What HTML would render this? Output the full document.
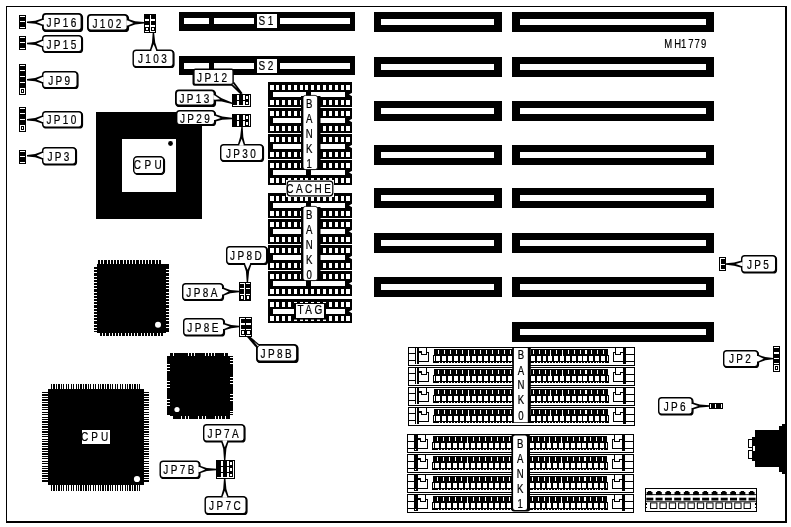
<!DOCTYPE html>
<html lang="en"><head><meta charset="utf-8"><title>MH1779 motherboard layout</title>
<style>html,body{margin:0;padding:0;background:#fff}svg{display:block;will-change:transform}text{font-family:"Liberation Sans",sans-serif;stroke:#000;stroke-width:.22px}</style>
</head><body>
<svg width="791" height="527" viewBox="0 0 791 527" font-family="Liberation Sans, sans-serif">
<rect x="0" y="0" width="791" height="527" fill="#fff"/>
<g shape-rendering="crispEdges">
<rect x="6" y="6" width="781" height="1" fill="#000" />
<rect x="6" y="6" width="1" height="517" fill="#000" />
<rect x="785" y="6" width="2" height="517" fill="#000" />
<rect x="6" y="521" width="781" height="2" fill="#000" />
<rect x="374" y="12" width="128" height="20" fill="#000" />
<rect x="381" y="19" width="113" height="6" fill="#fff" />
<rect x="374" y="57" width="128" height="20" fill="#000" />
<rect x="381" y="64" width="113" height="6" fill="#fff" />
<rect x="374" y="101" width="128" height="20" fill="#000" />
<rect x="381" y="108" width="113" height="6" fill="#fff" />
<rect x="374" y="145" width="128" height="20" fill="#000" />
<rect x="381" y="152" width="113" height="6" fill="#fff" />
<rect x="374" y="188" width="128" height="20" fill="#000" />
<rect x="381" y="195" width="113" height="6" fill="#fff" />
<rect x="374" y="233" width="128" height="20" fill="#000" />
<rect x="381" y="240" width="113" height="6" fill="#fff" />
<rect x="374" y="277" width="128" height="20" fill="#000" />
<rect x="381" y="284" width="113" height="6" fill="#fff" />
<rect x="512" y="12" width="202" height="20" fill="#000" />
<rect x="520" y="19" width="186" height="6" fill="#fff" />
<rect x="512" y="57" width="202" height="20" fill="#000" />
<rect x="520" y="64" width="186" height="6" fill="#fff" />
<rect x="512" y="101" width="202" height="20" fill="#000" />
<rect x="520" y="108" width="186" height="6" fill="#fff" />
<rect x="512" y="145" width="202" height="20" fill="#000" />
<rect x="520" y="152" width="186" height="6" fill="#fff" />
<rect x="512" y="188" width="202" height="20" fill="#000" />
<rect x="520" y="195" width="186" height="6" fill="#fff" />
<rect x="512" y="233" width="202" height="20" fill="#000" />
<rect x="520" y="240" width="186" height="6" fill="#fff" />
<rect x="512" y="277" width="202" height="20" fill="#000" />
<rect x="520" y="284" width="186" height="6" fill="#fff" />
<rect x="512" y="322" width="202" height="20" fill="#000" />
<rect x="520" y="329" width="186" height="6" fill="#fff" />
<rect x="179" y="12" width="176" height="19" fill="#000" />
<rect x="184" y="18" width="25" height="6" fill="#fff" />
<rect x="214" y="18" width="40" height="6" fill="#fff" />
<rect x="280" y="18" width="70" height="6" fill="#fff" />
<rect x="257" y="14" width="20" height="14" fill="#fff" />
<rect x="179" y="56" width="176" height="19" fill="#000" />
<rect x="184" y="63" width="25" height="6" fill="#fff" />
<rect x="214" y="63" width="40" height="6" fill="#fff" />
<rect x="280" y="63" width="70" height="6" fill="#fff" />
<rect x="257" y="59" width="20" height="14" fill="#fff" />
<rect x="96" y="112" width="106" height="107" fill="#000" />
<rect x="122" y="139" width="54" height="53" fill="#fff" />
<rect x="268" y="82" width="84" height="25" fill="#000" />
<rect x="270.2" y="85" width="3.7" height="5" fill="#fff" />
<rect x="270.2" y="100" width="3.7" height="5" fill="#fff" />
<rect x="276.06" y="85" width="3.1" height="5" fill="#fff" />
<rect x="276.06" y="100" width="3.1" height="5" fill="#fff" />
<rect x="281.92" y="85" width="3.1" height="5" fill="#fff" />
<rect x="281.92" y="100" width="3.1" height="5" fill="#fff" />
<rect x="287.78" y="85" width="3.1" height="5" fill="#fff" />
<rect x="287.78" y="100" width="3.1" height="5" fill="#fff" />
<rect x="293.64" y="85" width="3.1" height="5" fill="#fff" />
<rect x="293.64" y="100" width="3.1" height="5" fill="#fff" />
<rect x="299.5" y="85" width="3.1" height="5" fill="#fff" />
<rect x="299.5" y="100" width="3.1" height="5" fill="#fff" />
<rect x="305.36" y="85" width="3.1" height="5" fill="#fff" />
<rect x="305.36" y="100" width="3.1" height="5" fill="#fff" />
<rect x="311.22" y="85" width="3.1" height="5" fill="#fff" />
<rect x="311.22" y="100" width="3.1" height="5" fill="#fff" />
<rect x="317.08" y="85" width="3.1" height="5" fill="#fff" />
<rect x="317.08" y="100" width="3.1" height="5" fill="#fff" />
<rect x="322.94" y="85" width="3.1" height="5" fill="#fff" />
<rect x="322.94" y="100" width="3.1" height="5" fill="#fff" />
<rect x="328.8" y="85" width="3.1" height="5" fill="#fff" />
<rect x="328.8" y="100" width="3.1" height="5" fill="#fff" />
<rect x="334.66" y="85" width="3.1" height="5" fill="#fff" />
<rect x="334.66" y="100" width="3.1" height="5" fill="#fff" />
<rect x="340.52" y="85" width="3.1" height="5" fill="#fff" />
<rect x="340.52" y="100" width="3.1" height="5" fill="#fff" />
<rect x="346.38" y="85" width="3.7" height="5" fill="#fff" />
<rect x="346.38" y="100" width="3.7" height="5" fill="#fff" />
<rect x="273" y="92" width="72" height="5" fill="#fff" />
<rect x="306" y="90" width="5" height="9" fill="#000" />
<rect x="268" y="108" width="84" height="25" fill="#000" />
<rect x="270.2" y="111" width="3.7" height="5" fill="#fff" />
<rect x="270.2" y="126" width="3.7" height="5" fill="#fff" />
<rect x="276.06" y="111" width="3.1" height="5" fill="#fff" />
<rect x="276.06" y="126" width="3.1" height="5" fill="#fff" />
<rect x="281.92" y="111" width="3.1" height="5" fill="#fff" />
<rect x="281.92" y="126" width="3.1" height="5" fill="#fff" />
<rect x="287.78" y="111" width="3.1" height="5" fill="#fff" />
<rect x="287.78" y="126" width="3.1" height="5" fill="#fff" />
<rect x="293.64" y="111" width="3.1" height="5" fill="#fff" />
<rect x="293.64" y="126" width="3.1" height="5" fill="#fff" />
<rect x="299.5" y="111" width="3.1" height="5" fill="#fff" />
<rect x="299.5" y="126" width="3.1" height="5" fill="#fff" />
<rect x="305.36" y="111" width="3.1" height="5" fill="#fff" />
<rect x="305.36" y="126" width="3.1" height="5" fill="#fff" />
<rect x="311.22" y="111" width="3.1" height="5" fill="#fff" />
<rect x="311.22" y="126" width="3.1" height="5" fill="#fff" />
<rect x="317.08" y="111" width="3.1" height="5" fill="#fff" />
<rect x="317.08" y="126" width="3.1" height="5" fill="#fff" />
<rect x="322.94" y="111" width="3.1" height="5" fill="#fff" />
<rect x="322.94" y="126" width="3.1" height="5" fill="#fff" />
<rect x="328.8" y="111" width="3.1" height="5" fill="#fff" />
<rect x="328.8" y="126" width="3.1" height="5" fill="#fff" />
<rect x="334.66" y="111" width="3.1" height="5" fill="#fff" />
<rect x="334.66" y="126" width="3.1" height="5" fill="#fff" />
<rect x="340.52" y="111" width="3.1" height="5" fill="#fff" />
<rect x="340.52" y="126" width="3.1" height="5" fill="#fff" />
<rect x="346.38" y="111" width="3.7" height="5" fill="#fff" />
<rect x="346.38" y="126" width="3.7" height="5" fill="#fff" />
<rect x="273" y="118" width="72" height="5" fill="#fff" />
<rect x="268" y="134" width="84" height="25" fill="#000" />
<rect x="270.2" y="137" width="3.7" height="5" fill="#fff" />
<rect x="270.2" y="152" width="3.7" height="5" fill="#fff" />
<rect x="276.06" y="137" width="3.1" height="5" fill="#fff" />
<rect x="276.06" y="152" width="3.1" height="5" fill="#fff" />
<rect x="281.92" y="137" width="3.1" height="5" fill="#fff" />
<rect x="281.92" y="152" width="3.1" height="5" fill="#fff" />
<rect x="287.78" y="137" width="3.1" height="5" fill="#fff" />
<rect x="287.78" y="152" width="3.1" height="5" fill="#fff" />
<rect x="293.64" y="137" width="3.1" height="5" fill="#fff" />
<rect x="293.64" y="152" width="3.1" height="5" fill="#fff" />
<rect x="299.5" y="137" width="3.1" height="5" fill="#fff" />
<rect x="299.5" y="152" width="3.1" height="5" fill="#fff" />
<rect x="305.36" y="137" width="3.1" height="5" fill="#fff" />
<rect x="305.36" y="152" width="3.1" height="5" fill="#fff" />
<rect x="311.22" y="137" width="3.1" height="5" fill="#fff" />
<rect x="311.22" y="152" width="3.1" height="5" fill="#fff" />
<rect x="317.08" y="137" width="3.1" height="5" fill="#fff" />
<rect x="317.08" y="152" width="3.1" height="5" fill="#fff" />
<rect x="322.94" y="137" width="3.1" height="5" fill="#fff" />
<rect x="322.94" y="152" width="3.1" height="5" fill="#fff" />
<rect x="328.8" y="137" width="3.1" height="5" fill="#fff" />
<rect x="328.8" y="152" width="3.1" height="5" fill="#fff" />
<rect x="334.66" y="137" width="3.1" height="5" fill="#fff" />
<rect x="334.66" y="152" width="3.1" height="5" fill="#fff" />
<rect x="340.52" y="137" width="3.1" height="5" fill="#fff" />
<rect x="340.52" y="152" width="3.1" height="5" fill="#fff" />
<rect x="346.38" y="137" width="3.7" height="5" fill="#fff" />
<rect x="346.38" y="152" width="3.7" height="5" fill="#fff" />
<rect x="273" y="144" width="72" height="5" fill="#fff" />
<rect x="268" y="160" width="84" height="25" fill="#000" />
<rect x="270.2" y="163" width="3.7" height="5" fill="#fff" />
<rect x="270.2" y="178" width="3.7" height="5" fill="#fff" />
<rect x="276.06" y="163" width="3.1" height="5" fill="#fff" />
<rect x="276.06" y="178" width="3.1" height="5" fill="#fff" />
<rect x="281.92" y="163" width="3.1" height="5" fill="#fff" />
<rect x="281.92" y="178" width="3.1" height="5" fill="#fff" />
<rect x="287.78" y="163" width="3.1" height="5" fill="#fff" />
<rect x="287.78" y="178" width="3.1" height="5" fill="#fff" />
<rect x="293.64" y="163" width="3.1" height="5" fill="#fff" />
<rect x="293.64" y="178" width="3.1" height="5" fill="#fff" />
<rect x="299.5" y="163" width="3.1" height="5" fill="#fff" />
<rect x="299.5" y="178" width="3.1" height="5" fill="#fff" />
<rect x="305.36" y="163" width="3.1" height="5" fill="#fff" />
<rect x="305.36" y="178" width="3.1" height="5" fill="#fff" />
<rect x="311.22" y="163" width="3.1" height="5" fill="#fff" />
<rect x="311.22" y="178" width="3.1" height="5" fill="#fff" />
<rect x="317.08" y="163" width="3.1" height="5" fill="#fff" />
<rect x="317.08" y="178" width="3.1" height="5" fill="#fff" />
<rect x="322.94" y="163" width="3.1" height="5" fill="#fff" />
<rect x="322.94" y="178" width="3.1" height="5" fill="#fff" />
<rect x="328.8" y="163" width="3.1" height="5" fill="#fff" />
<rect x="328.8" y="178" width="3.1" height="5" fill="#fff" />
<rect x="334.66" y="163" width="3.1" height="5" fill="#fff" />
<rect x="334.66" y="178" width="3.1" height="5" fill="#fff" />
<rect x="340.52" y="163" width="3.1" height="5" fill="#fff" />
<rect x="340.52" y="178" width="3.1" height="5" fill="#fff" />
<rect x="346.38" y="163" width="3.7" height="5" fill="#fff" />
<rect x="346.38" y="178" width="3.7" height="5" fill="#fff" />
<rect x="273" y="170" width="72" height="5" fill="#fff" />
<rect x="306" y="168" width="5" height="9" fill="#000" />
<rect x="268" y="193" width="84" height="25" fill="#000" />
<rect x="270.2" y="196" width="3.7" height="5" fill="#fff" />
<rect x="270.2" y="211" width="3.7" height="5" fill="#fff" />
<rect x="276.06" y="196" width="3.1" height="5" fill="#fff" />
<rect x="276.06" y="211" width="3.1" height="5" fill="#fff" />
<rect x="281.92" y="196" width="3.1" height="5" fill="#fff" />
<rect x="281.92" y="211" width="3.1" height="5" fill="#fff" />
<rect x="287.78" y="196" width="3.1" height="5" fill="#fff" />
<rect x="287.78" y="211" width="3.1" height="5" fill="#fff" />
<rect x="293.64" y="196" width="3.1" height="5" fill="#fff" />
<rect x="293.64" y="211" width="3.1" height="5" fill="#fff" />
<rect x="299.5" y="196" width="3.1" height="5" fill="#fff" />
<rect x="299.5" y="211" width="3.1" height="5" fill="#fff" />
<rect x="305.36" y="196" width="3.1" height="5" fill="#fff" />
<rect x="305.36" y="211" width="3.1" height="5" fill="#fff" />
<rect x="311.22" y="196" width="3.1" height="5" fill="#fff" />
<rect x="311.22" y="211" width="3.1" height="5" fill="#fff" />
<rect x="317.08" y="196" width="3.1" height="5" fill="#fff" />
<rect x="317.08" y="211" width="3.1" height="5" fill="#fff" />
<rect x="322.94" y="196" width="3.1" height="5" fill="#fff" />
<rect x="322.94" y="211" width="3.1" height="5" fill="#fff" />
<rect x="328.8" y="196" width="3.1" height="5" fill="#fff" />
<rect x="328.8" y="211" width="3.1" height="5" fill="#fff" />
<rect x="334.66" y="196" width="3.1" height="5" fill="#fff" />
<rect x="334.66" y="211" width="3.1" height="5" fill="#fff" />
<rect x="340.52" y="196" width="3.1" height="5" fill="#fff" />
<rect x="340.52" y="211" width="3.1" height="5" fill="#fff" />
<rect x="346.38" y="196" width="3.7" height="5" fill="#fff" />
<rect x="346.38" y="211" width="3.7" height="5" fill="#fff" />
<rect x="273" y="203" width="72" height="5" fill="#fff" />
<rect x="306" y="201" width="5" height="9" fill="#000" />
<rect x="268" y="219" width="84" height="25" fill="#000" />
<rect x="270.2" y="222" width="3.7" height="5" fill="#fff" />
<rect x="270.2" y="237" width="3.7" height="5" fill="#fff" />
<rect x="276.06" y="222" width="3.1" height="5" fill="#fff" />
<rect x="276.06" y="237" width="3.1" height="5" fill="#fff" />
<rect x="281.92" y="222" width="3.1" height="5" fill="#fff" />
<rect x="281.92" y="237" width="3.1" height="5" fill="#fff" />
<rect x="287.78" y="222" width="3.1" height="5" fill="#fff" />
<rect x="287.78" y="237" width="3.1" height="5" fill="#fff" />
<rect x="293.64" y="222" width="3.1" height="5" fill="#fff" />
<rect x="293.64" y="237" width="3.1" height="5" fill="#fff" />
<rect x="299.5" y="222" width="3.1" height="5" fill="#fff" />
<rect x="299.5" y="237" width="3.1" height="5" fill="#fff" />
<rect x="305.36" y="222" width="3.1" height="5" fill="#fff" />
<rect x="305.36" y="237" width="3.1" height="5" fill="#fff" />
<rect x="311.22" y="222" width="3.1" height="5" fill="#fff" />
<rect x="311.22" y="237" width="3.1" height="5" fill="#fff" />
<rect x="317.08" y="222" width="3.1" height="5" fill="#fff" />
<rect x="317.08" y="237" width="3.1" height="5" fill="#fff" />
<rect x="322.94" y="222" width="3.1" height="5" fill="#fff" />
<rect x="322.94" y="237" width="3.1" height="5" fill="#fff" />
<rect x="328.8" y="222" width="3.1" height="5" fill="#fff" />
<rect x="328.8" y="237" width="3.1" height="5" fill="#fff" />
<rect x="334.66" y="222" width="3.1" height="5" fill="#fff" />
<rect x="334.66" y="237" width="3.1" height="5" fill="#fff" />
<rect x="340.52" y="222" width="3.1" height="5" fill="#fff" />
<rect x="340.52" y="237" width="3.1" height="5" fill="#fff" />
<rect x="346.38" y="222" width="3.7" height="5" fill="#fff" />
<rect x="346.38" y="237" width="3.7" height="5" fill="#fff" />
<rect x="273" y="229" width="72" height="5" fill="#fff" />
<rect x="268" y="245" width="84" height="25" fill="#000" />
<rect x="270.2" y="248" width="3.7" height="5" fill="#fff" />
<rect x="270.2" y="263" width="3.7" height="5" fill="#fff" />
<rect x="276.06" y="248" width="3.1" height="5" fill="#fff" />
<rect x="276.06" y="263" width="3.1" height="5" fill="#fff" />
<rect x="281.92" y="248" width="3.1" height="5" fill="#fff" />
<rect x="281.92" y="263" width="3.1" height="5" fill="#fff" />
<rect x="287.78" y="248" width="3.1" height="5" fill="#fff" />
<rect x="287.78" y="263" width="3.1" height="5" fill="#fff" />
<rect x="293.64" y="248" width="3.1" height="5" fill="#fff" />
<rect x="293.64" y="263" width="3.1" height="5" fill="#fff" />
<rect x="299.5" y="248" width="3.1" height="5" fill="#fff" />
<rect x="299.5" y="263" width="3.1" height="5" fill="#fff" />
<rect x="305.36" y="248" width="3.1" height="5" fill="#fff" />
<rect x="305.36" y="263" width="3.1" height="5" fill="#fff" />
<rect x="311.22" y="248" width="3.1" height="5" fill="#fff" />
<rect x="311.22" y="263" width="3.1" height="5" fill="#fff" />
<rect x="317.08" y="248" width="3.1" height="5" fill="#fff" />
<rect x="317.08" y="263" width="3.1" height="5" fill="#fff" />
<rect x="322.94" y="248" width="3.1" height="5" fill="#fff" />
<rect x="322.94" y="263" width="3.1" height="5" fill="#fff" />
<rect x="328.8" y="248" width="3.1" height="5" fill="#fff" />
<rect x="328.8" y="263" width="3.1" height="5" fill="#fff" />
<rect x="334.66" y="248" width="3.1" height="5" fill="#fff" />
<rect x="334.66" y="263" width="3.1" height="5" fill="#fff" />
<rect x="340.52" y="248" width="3.1" height="5" fill="#fff" />
<rect x="340.52" y="263" width="3.1" height="5" fill="#fff" />
<rect x="346.38" y="248" width="3.7" height="5" fill="#fff" />
<rect x="346.38" y="263" width="3.7" height="5" fill="#fff" />
<rect x="273" y="255" width="72" height="5" fill="#fff" />
<rect x="268" y="271" width="84" height="25" fill="#000" />
<rect x="270.2" y="274" width="3.7" height="5" fill="#fff" />
<rect x="270.2" y="289" width="3.7" height="5" fill="#fff" />
<rect x="276.06" y="274" width="3.1" height="5" fill="#fff" />
<rect x="276.06" y="289" width="3.1" height="5" fill="#fff" />
<rect x="281.92" y="274" width="3.1" height="5" fill="#fff" />
<rect x="281.92" y="289" width="3.1" height="5" fill="#fff" />
<rect x="287.78" y="274" width="3.1" height="5" fill="#fff" />
<rect x="287.78" y="289" width="3.1" height="5" fill="#fff" />
<rect x="293.64" y="274" width="3.1" height="5" fill="#fff" />
<rect x="293.64" y="289" width="3.1" height="5" fill="#fff" />
<rect x="299.5" y="274" width="3.1" height="5" fill="#fff" />
<rect x="299.5" y="289" width="3.1" height="5" fill="#fff" />
<rect x="305.36" y="274" width="3.1" height="5" fill="#fff" />
<rect x="305.36" y="289" width="3.1" height="5" fill="#fff" />
<rect x="311.22" y="274" width="3.1" height="5" fill="#fff" />
<rect x="311.22" y="289" width="3.1" height="5" fill="#fff" />
<rect x="317.08" y="274" width="3.1" height="5" fill="#fff" />
<rect x="317.08" y="289" width="3.1" height="5" fill="#fff" />
<rect x="322.94" y="274" width="3.1" height="5" fill="#fff" />
<rect x="322.94" y="289" width="3.1" height="5" fill="#fff" />
<rect x="328.8" y="274" width="3.1" height="5" fill="#fff" />
<rect x="328.8" y="289" width="3.1" height="5" fill="#fff" />
<rect x="334.66" y="274" width="3.1" height="5" fill="#fff" />
<rect x="334.66" y="289" width="3.1" height="5" fill="#fff" />
<rect x="340.52" y="274" width="3.1" height="5" fill="#fff" />
<rect x="340.52" y="289" width="3.1" height="5" fill="#fff" />
<rect x="346.38" y="274" width="3.7" height="5" fill="#fff" />
<rect x="346.38" y="289" width="3.7" height="5" fill="#fff" />
<rect x="273" y="281" width="72" height="5" fill="#fff" />
<rect x="306" y="279" width="5" height="9" fill="#000" />
<rect x="268" y="299" width="84" height="24" fill="#000" />
<rect x="270.2" y="302" width="3.7" height="5" fill="#fff" />
<rect x="270.2" y="316" width="3.7" height="5" fill="#fff" />
<rect x="276.06" y="302" width="3.1" height="5" fill="#fff" />
<rect x="276.06" y="316" width="3.1" height="5" fill="#fff" />
<rect x="281.92" y="302" width="3.1" height="5" fill="#fff" />
<rect x="281.92" y="316" width="3.1" height="5" fill="#fff" />
<rect x="287.78" y="302" width="3.1" height="5" fill="#fff" />
<rect x="287.78" y="316" width="3.1" height="5" fill="#fff" />
<rect x="293.64" y="302" width="3.1" height="5" fill="#fff" />
<rect x="293.64" y="316" width="3.1" height="5" fill="#fff" />
<rect x="299.5" y="302" width="3.1" height="5" fill="#fff" />
<rect x="299.5" y="316" width="3.1" height="5" fill="#fff" />
<rect x="305.36" y="302" width="3.1" height="5" fill="#fff" />
<rect x="305.36" y="316" width="3.1" height="5" fill="#fff" />
<rect x="311.22" y="302" width="3.1" height="5" fill="#fff" />
<rect x="311.22" y="316" width="3.1" height="5" fill="#fff" />
<rect x="317.08" y="302" width="3.1" height="5" fill="#fff" />
<rect x="317.08" y="316" width="3.1" height="5" fill="#fff" />
<rect x="322.94" y="302" width="3.1" height="5" fill="#fff" />
<rect x="322.94" y="316" width="3.1" height="5" fill="#fff" />
<rect x="328.8" y="302" width="3.1" height="5" fill="#fff" />
<rect x="328.8" y="316" width="3.1" height="5" fill="#fff" />
<rect x="334.66" y="302" width="3.1" height="5" fill="#fff" />
<rect x="334.66" y="316" width="3.1" height="5" fill="#fff" />
<rect x="340.52" y="302" width="3.1" height="5" fill="#fff" />
<rect x="340.52" y="316" width="3.1" height="5" fill="#fff" />
<rect x="346.38" y="302" width="3.7" height="5" fill="#fff" />
<rect x="346.38" y="316" width="3.7" height="5" fill="#fff" />
<rect x="273" y="309" width="72" height="5" fill="#fff" />
</g>
<path d="M352.5,92.5 L349,94.5 L352.5,96.5 Z" fill="#fff"/>
<path d="M352.5,118.5 L349,120.5 L352.5,122.5 Z" fill="#fff"/>
<path d="M352.5,144.5 L349,146.5 L352.5,148.5 Z" fill="#fff"/>
<path d="M352.5,170.5 L349,172.5 L352.5,174.5 Z" fill="#fff"/>
<path d="M352.5,203.5 L349,205.5 L352.5,207.5 Z" fill="#fff"/>
<path d="M352.5,229.5 L349,231.5 L352.5,233.5 Z" fill="#fff"/>
<path d="M352.5,255.5 L349,257.5 L352.5,259.5 Z" fill="#fff"/>
<path d="M352.5,281.5 L349,283.5 L352.5,285.5 Z" fill="#fff"/>
<path d="M352.5,309.5 L349,311.5 L352.5,313.5 Z" fill="#fff"/>
<circle cx="170.5" cy="143.5" r="2.4" fill="#000"/>
<rect x="134.4" y="157.4" width="30" height="17" rx="3.5" ry="3.5" fill="#000" stroke="#000" stroke-width="1.4"/>
<rect x="133.7" y="156.7" width="30" height="17" rx="3.5" ry="3.5" fill="#fff" stroke="#000" stroke-width="1.4"/>
<text transform="translate(149.5,169.4) scale(0.8,1)" font-size="12.5" text-anchor="middle" letter-spacing="4.38" fill="#000" >CPU</text>
<rect x="301" y="96" width="19.5" height="74" fill="#000"/><rect x="301" y="207" width="19.5" height="74" fill="#000"/>
<rect x="303" y="95.4" width="14.6" height="74.2" rx="2.5" ry="2.5" fill="#fff" stroke="#000" stroke-width="0.8"/>
<text transform="translate(310.4,107.5) scale(0.8,1)" font-size="12" text-anchor="middle" letter-spacing="3" fill="#000" >B</text>
<text transform="translate(310.4,123) scale(0.8,1)" font-size="12" text-anchor="middle" letter-spacing="3" fill="#000" >A</text>
<text transform="translate(310.4,137.5) scale(0.8,1)" font-size="12" text-anchor="middle" letter-spacing="3" fill="#000" >N</text>
<text transform="translate(310.4,152.5) scale(0.8,1)" font-size="12" text-anchor="middle" letter-spacing="3" fill="#000" >K</text>
<text transform="translate(310.4,167.5) scale(0.8,1)" font-size="12" text-anchor="middle" letter-spacing="3" fill="#000" >1</text>
<rect x="303" y="206.4" width="14.6" height="74.2" rx="2.5" ry="2.5" fill="#fff" stroke="#000" stroke-width="0.8"/>
<text transform="translate(310.4,218.5) scale(0.8,1)" font-size="12" text-anchor="middle" letter-spacing="3" fill="#000" >B</text>
<text transform="translate(310.4,234) scale(0.8,1)" font-size="12" text-anchor="middle" letter-spacing="3" fill="#000" >A</text>
<text transform="translate(310.4,248.5) scale(0.8,1)" font-size="12" text-anchor="middle" letter-spacing="3" fill="#000" >N</text>
<text transform="translate(310.4,263.5) scale(0.8,1)" font-size="12" text-anchor="middle" letter-spacing="3" fill="#000" >K</text>
<text transform="translate(310.4,278.5) scale(0.8,1)" font-size="12" text-anchor="middle" letter-spacing="3" fill="#000" >0</text>
<rect x="286" y="180" width="48" height="17" fill="#fff"/>
<rect x="287.2" y="181.2" width="45.6" height="14.6" rx="3" ry="3" fill="#fff" stroke="#000" stroke-width="1.2"/>
<text transform="translate(309.8,192.6) scale(0.8,1)" font-size="12.5" text-anchor="middle" letter-spacing="3" fill="#000" >CACHE</text>
<rect x="294" y="303" width="32" height="16.6" fill="#000"/>
<rect x="296" y="304" width="28" height="14" fill="#fff"/>
<text transform="translate(311.1,314.4) scale(0.8,1)" font-size="12.5" text-anchor="middle" letter-spacing="3" fill="#000" >TAG</text>
<text transform="translate(267.1,25.4) scale(0.8,1)" font-size="12.5" text-anchor="middle" letter-spacing="3" fill="#000" >S1</text>
<text transform="translate(267.1,70.4) scale(0.8,1)" font-size="12.5" text-anchor="middle" letter-spacing="3" fill="#000" >S2</text>
<text transform="scale(0.76,1)" x="873.95 887.11 895.92 905.66 913.95 922.24" y="48" font-size="12.5" fill="#000">MH1779</text>
<g shape-rendering="crispEdges">
<rect x="19" y="15" width="7" height="14" fill="#000" />
<rect x="20" y="16" width="5" height="1" fill="#fff" />
<rect x="20" y="21" width="5" height="1" fill="#fff" />
<rect x="20" y="27" width="5" height="1" fill="#fff" />
<rect x="19" y="36" width="7" height="14" fill="#000" />
<rect x="20" y="37" width="5" height="1" fill="#fff" />
<rect x="20" y="42" width="5" height="1" fill="#fff" />
<rect x="20" y="48" width="5" height="1" fill="#fff" />
<rect x="19" y="64" width="7" height="31" fill="#000" />
<rect x="20" y="65" width="5" height="1" fill="#fff" />
<rect x="20" y="70" width="5" height="1" fill="#fff" />
<rect x="20" y="76" width="5" height="1" fill="#fff" />
<rect x="20" y="82" width="5" height="1" fill="#fff" />
<rect x="20" y="88" width="5" height="6" fill="#fff" />
<rect x="21.5" y="89.5" width="2" height="3" fill="#fff" stroke="#000" stroke-width="1"/>
<rect x="19" y="107" width="7" height="25" fill="#000" />
<rect x="20" y="108" width="5" height="1" fill="#fff" />
<rect x="20" y="113" width="5" height="1" fill="#fff" />
<rect x="20" y="119" width="5" height="1" fill="#fff" />
<rect x="20" y="125" width="5" height="6" fill="#fff" />
<rect x="21.5" y="126.5" width="2" height="3" fill="#fff" stroke="#000" stroke-width="1"/>
<rect x="19" y="150" width="7" height="14" fill="#000" />
<rect x="20" y="151" width="5" height="1" fill="#fff" />
<rect x="20" y="156" width="5" height="1" fill="#fff" />
<rect x="20" y="162" width="5" height="1" fill="#fff" />
<rect x="719" y="257" width="7" height="14" fill="#000" />
<rect x="720" y="258" width="5" height="12" fill="#fff" />
<rect x="721" y="259" width="5" height="4.5" fill="#000" />
<rect x="721" y="264.5" width="5" height="4.5" fill="#000" />
<rect x="773" y="346" width="7" height="26" fill="#000" />
<rect x="774" y="347" width="5" height="1" fill="#fff" />
<rect x="774" y="352" width="5" height="2" fill="#fff" />
<rect x="774" y="358" width="5" height="1" fill="#fff" />
<rect x="774" y="363" width="5" height="1" fill="#fff" />
<rect x="774" y="365" width="5" height="6" fill="#fff" />
<rect x="775.5" y="366.5" width="2" height="3" fill="#fff" stroke="#000" stroke-width="1"/>
<rect x="709" y="403" width="14" height="6" fill="#000" />
<rect x="710" y="404" width="1" height="4" fill="#fff" />
<rect x="715" y="404" width="1" height="4" fill="#fff" />
<rect x="721" y="404" width="1" height="4" fill="#fff" />
<rect x="144" y="14" width="12" height="19" fill="#000" />
<rect x="150" y="15" width="1" height="17" fill="#fff" />
<rect x="145" y="19" width="4" height="2" fill="#fff" />
<rect x="151" y="19" width="4" height="2" fill="#fff" />
<rect x="145" y="25" width="4" height="2" fill="#fff" />
<rect x="151" y="25" width="4" height="2" fill="#fff" />
<rect x="146" y="28" width="2" height="2" fill="#fff" />
<rect x="152" y="28" width="2" height="2" fill="#fff" />
<rect x="145" y="31" width="4" height="1" fill="#fff" />
<rect x="151" y="31" width="4" height="1" fill="#fff" />
<rect x="232" y="94" width="19" height="13" fill="#000" />
<rect x="237" y="95" width="2" height="5" fill="#fff" />
<rect x="237" y="101" width="2" height="4" fill="#fff" />
<rect x="243" y="95" width="2" height="5" fill="#fff" />
<rect x="243" y="101" width="2" height="4" fill="#fff" />
<rect x="246" y="96" width="2" height="3" fill="#fff" />
<rect x="246" y="102" width="2" height="2" fill="#fff" />
<rect x="249" y="95" width="1" height="10" fill="#fff" />
<rect x="233" y="105" width="17" height="1" fill="#fff" />
<rect x="232" y="114" width="19" height="13" fill="#000" />
<rect x="237" y="115" width="2" height="5" fill="#fff" />
<rect x="237" y="121" width="2" height="5" fill="#fff" />
<rect x="243" y="115" width="2" height="5" fill="#fff" />
<rect x="243" y="121" width="2" height="5" fill="#fff" />
<rect x="246" y="116" width="2" height="3" fill="#fff" />
<rect x="246" y="122" width="2" height="3" fill="#fff" />
<rect x="249" y="115" width="1" height="11" fill="#fff" />
<rect x="239" y="282" width="12" height="19" fill="#000" />
<rect x="240" y="283" width="4" height="1" fill="#fff" />
<rect x="246" y="283" width="4" height="1" fill="#fff" />
<rect x="244" y="283" width="1" height="17" fill="#fff" />
<rect x="240" y="288" width="4" height="1" fill="#fff" />
<rect x="246" y="288" width="4" height="1" fill="#fff" />
<rect x="240" y="294" width="4" height="1" fill="#fff" />
<rect x="246" y="294" width="4" height="1" fill="#fff" />
<rect x="241" y="296" width="2" height="3" fill="#fff" />
<rect x="247" y="296" width="2" height="3" fill="#fff" />
<rect x="239" y="317" width="13" height="20" fill="#000" />
<rect x="240" y="318" width="1" height="18" fill="#fff" />
<rect x="240" y="318" width="5" height="1" fill="#fff" />
<rect x="246" y="318" width="5" height="1" fill="#fff" />
<rect x="241" y="323" width="4" height="2" fill="#fff" />
<rect x="246" y="323" width="5" height="2" fill="#fff" />
<rect x="241" y="329" width="4" height="1" fill="#fff" />
<rect x="246" y="329" width="5" height="1" fill="#fff" />
<rect x="242" y="331" width="2" height="3" fill="#fff" />
<rect x="247" y="331" width="3" height="3" fill="#fff" />
<rect x="240" y="335" width="5" height="1" fill="#fff" />
<rect x="246" y="335" width="5" height="1" fill="#fff" />
<rect x="216" y="460" width="19" height="19" fill="#000" />
<rect x="221" y="461" width="2" height="5" fill="#fff" />
<rect x="221" y="467" width="2" height="5" fill="#fff" />
<rect x="221" y="473" width="2" height="4" fill="#fff" />
<rect x="227" y="461" width="2" height="5" fill="#fff" />
<rect x="227" y="467" width="2" height="5" fill="#fff" />
<rect x="227" y="473" width="2" height="4" fill="#fff" />
<rect x="230" y="462" width="2" height="3" fill="#fff" />
<rect x="230" y="468" width="2" height="3" fill="#fff" />
<rect x="230" y="474" width="2" height="2" fill="#fff" />
<rect x="233" y="461" width="1" height="16" fill="#fff" />
<rect x="217" y="477" width="17" height="1" fill="#fff" />
</g>
<rect x="43.6" y="14.6" width="38.6" height="16.6" rx="3" ry="3" fill="#000" stroke="#000" stroke-width="1.8"/>
<rect x="42.9" y="13.9" width="38.6" height="16.6" rx="3" ry="3" fill="#fff" stroke="#000" stroke-width="1.8"/>
<path d="M42.90,18.30 L35.30,20.67 L27.00,21.60 L27.00,23.00 L35.30,23.87 L42.90,26.20 Z" fill="#000"/>
<path d="M44.10,19.90 L42.60,19.90 L36.90,22.27 L42.60,24.60 L44.10,24.60 Z" fill="#fff"/>
<text transform="translate(62.6,27) scale(0.8,1)" font-size="12.5" text-anchor="middle" letter-spacing="3" fill="#000" >JP16</text>
<rect x="43.4" y="36.4" width="39" height="16" rx="3" ry="3" fill="#000" stroke="#000" stroke-width="1.4"/>
<rect x="42.7" y="35.7" width="39" height="16" rx="3" ry="3" fill="#fff" stroke="#000" stroke-width="1.4"/>
<path d="M42.70,39.30 L35.10,41.90 L27.00,42.80 L27.00,44.20 L35.10,45.10 L42.70,47.70 Z" fill="#000"/>
<path d="M43.70,40.90 L42.40,40.90 L36.70,43.50 L42.40,46.10 L43.70,46.10 Z" fill="#fff"/>
<text transform="translate(62.6,48.5) scale(0.8,1)" font-size="12.5" text-anchor="middle" letter-spacing="3" fill="#000" >JP15</text>
<rect x="43.4" y="72.4" width="34.5" height="16" rx="3" ry="3" fill="#000" stroke="#000" stroke-width="1.4"/>
<rect x="42.7" y="71.7" width="34.5" height="16" rx="3" ry="3" fill="#fff" stroke="#000" stroke-width="1.4"/>
<path d="M42.70,75.30 L35.10,78.00 L27.00,79.00 L27.00,80.40 L35.10,81.20 L42.70,83.70 Z" fill="#000"/>
<path d="M43.70,76.89 L42.40,76.90 L36.70,79.58 L42.40,82.10 L43.70,82.09 Z" fill="#fff"/>
<text transform="translate(60.35,84.5) scale(0.8,1)" font-size="12.5" text-anchor="middle" letter-spacing="3" fill="#000" >JP9</text>
<rect x="43.4" y="112.4" width="39" height="15.5" rx="3" ry="3" fill="#000" stroke="#000" stroke-width="1.4"/>
<rect x="42.7" y="111.7" width="39" height="15.5" rx="3" ry="3" fill="#fff" stroke="#000" stroke-width="1.4"/>
<path d="M42.70,115.30 L35.10,118.00 L27.00,119.00 L27.00,120.40 L35.10,121.20 L42.70,123.70 Z" fill="#000"/>
<path d="M43.70,116.89 L42.40,116.90 L36.70,119.58 L42.40,122.10 L43.70,122.09 Z" fill="#fff"/>
<text transform="translate(62.6,124.25) scale(0.8,1)" font-size="12.5" text-anchor="middle" letter-spacing="3" fill="#000" >JP10</text>
<rect x="43.4" y="148.4" width="33" height="16.5" rx="3" ry="3" fill="#000" stroke="#000" stroke-width="1.4"/>
<rect x="42.7" y="147.7" width="33" height="16.5" rx="3" ry="3" fill="#fff" stroke="#000" stroke-width="1.4"/>
<path d="M42.70,151.30 L35.10,154.05 L27.00,155.10 L27.00,156.50 L35.10,157.25 L42.70,159.70 Z" fill="#000"/>
<path d="M43.70,152.88 L42.40,152.91 L36.70,155.61 L42.40,158.11 L43.70,158.08 Z" fill="#fff"/>
<text transform="translate(59.6,160.75) scale(0.8,1)" font-size="12.5" text-anchor="middle" letter-spacing="3" fill="#000" >JP3</text>
<rect x="88.6" y="15.6" width="39.6" height="15.6" rx="3" ry="3" fill="#000" stroke="#000" stroke-width="1.8"/>
<rect x="87.9" y="14.9" width="39.6" height="15.6" rx="3" ry="3" fill="#fff" stroke="#000" stroke-width="1.8"/>
<path d="M127.50,27.20 L135.10,24.51 L144.00,23.50 L144.00,22.10 L135.10,21.31 L127.50,18.80 Z" fill="#000"/>
<path d="M126.30,25.61 L127.80,25.60 L133.50,22.93 L127.80,20.40 L126.30,20.41 Z" fill="#fff"/>
<text transform="translate(108.1,27.5) scale(0.8,1)" font-size="12.5" text-anchor="middle" letter-spacing="3" fill="#000" >J102</text>
<rect x="133.9" y="50.9" width="40" height="16.5" rx="3" ry="3" fill="#000" stroke="#000" stroke-width="1.4"/>
<rect x="133.2" y="50.2" width="40" height="16.5" rx="3" ry="3" fill="#fff" stroke="#000" stroke-width="1.4"/>
<path d="M157.70,50.20 L155.20,42.60 L154.10,32.50 L152.70,32.50 L152.00,42.60 L149.80,50.20 Z" fill="#000"/>
<path d="M156.12,51.20 L156.09,49.90 L153.63,44.20 L151.39,49.90 L151.42,51.20 Z" fill="#fff"/>
<text transform="translate(153.6,63.25) scale(0.8,1)" font-size="12.5" text-anchor="middle" letter-spacing="3" fill="#000" >J103</text>
<rect x="176.6" y="91.1" width="38.6" height="15.1" rx="3" ry="3" fill="#000" stroke="#000" stroke-width="1.8"/>
<rect x="175.9" y="90.4" width="38.6" height="15.1" rx="3" ry="3" fill="#fff" stroke="#000" stroke-width="1.8"/>
<path d="M214.50,101.20 L221.73,101.45 L232.00,103.90 L232.00,102.50 L221.73,98.25 L214.50,93.80 Z" fill="#000"/>
<path d="M213.36,99.23 L214.79,99.69 L220.21,99.36 L214.79,95.49 L213.36,95.03 Z" fill="#fff"/>
<text transform="translate(195.6,102.75) scale(0.8,1)" font-size="12.5" text-anchor="middle" letter-spacing="3" fill="#000" >JP13</text>
<rect x="177.4" y="111.4" width="38" height="14" rx="3" ry="3" fill="#000" stroke="#000" stroke-width="1.4"/>
<rect x="176.7" y="110.7" width="38" height="14" rx="3" ry="3" fill="#fff" stroke="#000" stroke-width="1.4"/>
<path d="M214.70,121.70 L222.30,119.76 L232.00,119.20 L232.00,117.80 L222.30,116.56 L214.70,114.10 Z" fill="#000"/>
<path d="M213.70,120.07 L215.00,120.11 L220.70,118.11 L215.00,115.71 L213.70,115.67 Z" fill="#fff"/>
<text transform="translate(196.1,122.5) scale(0.8,1)" font-size="12.5" text-anchor="middle" letter-spacing="3" fill="#000" >JP29</text>
<rect x="221.4" y="145.4" width="42" height="16" rx="3" ry="3" fill="#000" stroke="#000" stroke-width="1.4"/>
<rect x="220.7" y="144.7" width="42" height="16" rx="3" ry="3" fill="#fff" stroke="#000" stroke-width="1.4"/>
<path d="M245.20,144.70 L243.31,137.10 L242.70,127.00 L241.30,127.00 L240.11,137.10 L237.80,144.70 Z" fill="#000"/>
<path d="M243.57,145.70 L243.61,144.40 L241.67,138.70 L239.41,144.40 L239.37,145.70 Z" fill="#fff"/>
<text transform="translate(242.1,157.5) scale(0.8,1)" font-size="12.5" text-anchor="middle" letter-spacing="3" fill="#000" >JP30</text>
<rect x="227.4" y="247.4" width="40" height="17" rx="3" ry="3" fill="#000" stroke="#000" stroke-width="1.4"/>
<rect x="226.7" y="246.7" width="40" height="17" rx="3" ry="3" fill="#fff" stroke="#000" stroke-width="1.4"/>
<path d="M243.50,263.70 L245.92,271.30 L246.70,282.00 L248.10,282.00 L249.12,271.30 L251.70,263.70 Z" fill="#000"/>
<path d="M245.11,262.70 L245.10,264.00 L247.53,269.70 L250.10,264.00 L250.11,262.70 Z" fill="#fff"/>
<text transform="translate(247.1,260) scale(0.8,1)" font-size="12.5" text-anchor="middle" letter-spacing="3" fill="#000" >JP8D</text>
<rect x="183.4" y="284.4" width="40" height="16" rx="3" ry="3" fill="#000" stroke="#000" stroke-width="1.4"/>
<rect x="182.7" y="283.7" width="40" height="16" rx="3" ry="3" fill="#fff" stroke="#000" stroke-width="1.4"/>
<path d="M222.70,296.00 L230.30,293.18 L239.00,292.20 L239.00,290.80 L230.30,289.98 L222.70,287.30 Z" fill="#000"/>
<path d="M221.70,294.41 L223.00,294.40 L228.70,291.59 L223.00,288.90 L221.70,288.91 Z" fill="#fff"/>
<text transform="translate(203.1,296.5) scale(0.8,1)" font-size="12.5" text-anchor="middle" letter-spacing="3" fill="#000" >JP8A</text>
<rect x="184.4" y="319.4" width="40" height="16.5" rx="3" ry="3" fill="#000" stroke="#000" stroke-width="1.4"/>
<rect x="183.7" y="318.7" width="40" height="16.5" rx="3" ry="3" fill="#fff" stroke="#000" stroke-width="1.4"/>
<path d="M223.70,330.50 L231.30,328.18 L239.00,327.20 L239.00,325.80 L231.30,324.98 L223.70,322.80 Z" fill="#000"/>
<path d="M222.70,328.91 L224.00,328.90 L229.70,326.59 L224.00,324.40 L222.70,324.41 Z" fill="#fff"/>
<text transform="translate(204.1,331.75) scale(0.8,1)" font-size="12.5" text-anchor="middle" letter-spacing="3" fill="#000" >JP8E</text>
<rect x="204.4" y="425.4" width="40.5" height="16.5" rx="3" ry="3" fill="#000" stroke="#000" stroke-width="1.4"/>
<rect x="203.7" y="424.7" width="40.5" height="16.5" rx="3" ry="3" fill="#fff" stroke="#000" stroke-width="1.4"/>
<path d="M221.00,441.20 L223.19,448.80 L224.00,460.00 L225.40,460.00 L226.39,448.80 L228.70,441.20 Z" fill="#000"/>
<path d="M222.61,440.20 L222.60,441.50 L224.80,447.20 L227.10,441.50 L227.11,440.20 Z" fill="#fff"/>
<text transform="translate(224.35,437.75) scale(0.8,1)" font-size="12.5" text-anchor="middle" letter-spacing="3" fill="#000" >JP7A</text>
<rect x="160.9" y="461.9" width="39" height="16.5" rx="3" ry="3" fill="#000" stroke="#000" stroke-width="1.4"/>
<rect x="160.2" y="461.2" width="39" height="16.5" rx="3" ry="3" fill="#fff" stroke="#000" stroke-width="1.4"/>
<path d="M199.20,473.50 L206.80,471.10 L216.50,470.20 L216.50,468.80 L206.80,467.90 L199.20,465.50 Z" fill="#000"/>
<path d="M198.20,471.90 L199.50,471.90 L205.20,469.50 L199.50,467.10 L198.20,467.10 Z" fill="#fff"/>
<text transform="translate(180.1,474.25) scale(0.8,1)" font-size="12.5" text-anchor="middle" letter-spacing="3" fill="#000" >JP7B</text>
<rect x="205.9" y="497.4" width="41" height="17" rx="3" ry="3" fill="#000" stroke="#000" stroke-width="1.4"/>
<rect x="205.2" y="496.7" width="41" height="17" rx="3" ry="3" fill="#fff" stroke="#000" stroke-width="1.4"/>
<path d="M228.70,496.70 L226.39,489.10 L225.40,478.30 L224.00,478.30 L223.19,489.10 L221.00,496.70 Z" fill="#000"/>
<path d="M227.11,497.70 L227.10,496.40 L224.80,490.70 L222.60,496.40 L222.61,497.70 Z" fill="#fff"/>
<text transform="translate(226.1,510) scale(0.8,1)" font-size="12.5" text-anchor="middle" letter-spacing="3" fill="#000" >JP7C</text>
<rect x="742.4" y="256.4" width="34" height="16.5" rx="3" ry="3" fill="#000" stroke="#000" stroke-width="1.4"/>
<rect x="741.7" y="255.7" width="34" height="16.5" rx="3" ry="3" fill="#fff" stroke="#000" stroke-width="1.4"/>
<path d="M741.70,260.60 L734.10,262.48 L726.00,263.30 L726.00,264.70 L734.10,265.68 L741.70,267.70 Z" fill="#000"/>
<path d="M742.70,262.21 L741.40,262.20 L735.70,264.09 L741.40,266.10 L742.70,266.11 Z" fill="#fff"/>
<text transform="translate(759.1,268.75) scale(0.8,1)" font-size="12.5" text-anchor="middle" letter-spacing="3" fill="#000" >JP5</text>
<rect x="724.4" y="351.4" width="34" height="16" rx="3" ry="3" fill="#000" stroke="#000" stroke-width="1.4"/>
<rect x="723.7" y="350.7" width="34" height="16" rx="3" ry="3" fill="#fff" stroke="#000" stroke-width="1.4"/>
<path d="M757.70,363.10 L765.30,360.30 L773.00,359.30 L773.00,357.90 L765.30,357.10 L757.70,354.50 Z" fill="#000"/>
<path d="M756.70,361.51 L758.00,361.50 L763.70,358.72 L758.00,356.10 L756.70,356.11 Z" fill="#fff"/>
<text transform="translate(741.1,362.7) scale(0.8,1)" font-size="12.5" text-anchor="middle" letter-spacing="3" fill="#000" >JP2</text>
<rect x="659.4" y="398.4" width="33.5" height="16.5" rx="3" ry="3" fill="#000" stroke="#000" stroke-width="1.4"/>
<rect x="658.7" y="397.7" width="33.5" height="16.5" rx="3" ry="3" fill="#fff" stroke="#000" stroke-width="1.4"/>
<path d="M692.20,409.70 L699.80,407.60 L709.40,406.70 L709.40,405.30 L699.80,404.40 L692.20,402.30 Z" fill="#000"/>
<path d="M691.20,408.10 L692.50,408.10 L698.20,406.00 L692.50,403.90 L691.20,403.90 Z" fill="#fff"/>
<text transform="translate(675.85,410.75) scale(0.8,1)" font-size="12.5" text-anchor="middle" letter-spacing="3" fill="#000" >JP6</text>
<rect x="193.2" y="69.9" width="39.2" height="15.2" rx="1.5" ry="1.5" fill="#000" stroke="#000" stroke-width="1.4"/>
<rect x="193.9" y="69.2" width="39.2" height="15.2" rx="1.5" ry="1.5" fill="#fff" stroke="#000" stroke-width="1.4"/>
<text transform="translate(213.3,81.6) scale(0.8,1)" font-size="12.5" text-anchor="middle" letter-spacing="3" fill="#000" >JP12</text>
<path d="M230.3,84.6 L234.2,82 L242.6,93.2 L240.6,94.6 Z" fill="#000"/>
<path d="M232.3,84 L233,83.4 L237,88.6 Z" fill="#fff"/>
<rect x="257.6" y="345.6" width="40.1" height="16.6" rx="3" ry="3" fill="#000" stroke="#000" stroke-width="1.8"/>
<rect x="256.9" y="344.9" width="40.1" height="16.6" rx="3" ry="3" fill="#fff" stroke="#000" stroke-width="1.8"/>
<text transform="translate(277.35,358) scale(0.8,1)" font-size="12.5" text-anchor="middle" letter-spacing="3" fill="#000" >JP8B</text>
<path d="M246.6,336.5 L250,336.5 L260,345 L257,348.6 Z" fill="#000"/>
<path d="M258,346.6 L258.8,345.8 L254,341.6 Z" fill="#fff"/>
<g shape-rendering="crispEdges">
<rect x="97" y="264" width="69" height="69" fill="#000" />
<rect x="94" y="267" width="75" height="65" fill="#000" />
<rect x="97" y="264" width="72" height="3" fill="#000" />
<rect x="98" y="260" width="64" height="4" fill="#000" />
<rect x="100.2" y="260" width="1" height="4" fill="#fff" />
<rect x="103.4" y="260" width="1" height="4" fill="#fff" />
<rect x="106.6" y="260" width="1" height="4" fill="#fff" />
<rect x="109.8" y="260" width="1" height="4" fill="#fff" />
<rect x="113" y="260" width="1" height="4" fill="#fff" />
<rect x="116.2" y="260" width="1" height="4" fill="#fff" />
<rect x="119.4" y="260" width="1" height="4" fill="#fff" />
<rect x="122.6" y="260" width="1" height="4" fill="#fff" />
<rect x="125.8" y="260" width="1" height="4" fill="#fff" />
<rect x="129" y="260" width="1" height="4" fill="#fff" />
<rect x="132.2" y="260" width="1" height="4" fill="#fff" />
<rect x="135.4" y="260" width="1" height="4" fill="#fff" />
<rect x="138.6" y="260" width="1" height="4" fill="#fff" />
<rect x="141.8" y="260" width="1" height="4" fill="#fff" />
<rect x="145" y="260" width="1" height="4" fill="#fff" />
<rect x="148.2" y="260" width="1" height="4" fill="#fff" />
<rect x="151.4" y="260" width="1" height="4" fill="#fff" />
<rect x="154.6" y="260" width="1" height="4" fill="#fff" />
<rect x="157.8" y="260" width="1" height="4" fill="#fff" />
<rect x="161" y="260" width="1" height="4" fill="#fff" />
<rect x="100" y="333" width="64" height="3" fill="#000" />
<rect x="102.2" y="333" width="1" height="3" fill="#fff" />
<rect x="105.4" y="333" width="1" height="3" fill="#fff" />
<rect x="108.6" y="333" width="1" height="3" fill="#fff" />
<rect x="111.8" y="333" width="1" height="3" fill="#fff" />
<rect x="115" y="333" width="1" height="3" fill="#fff" />
<rect x="118.2" y="333" width="1" height="3" fill="#fff" />
<rect x="121.4" y="333" width="1" height="3" fill="#fff" />
<rect x="124.6" y="333" width="1" height="3" fill="#fff" />
<rect x="127.8" y="333" width="1" height="3" fill="#fff" />
<rect x="131" y="333" width="1" height="3" fill="#fff" />
<rect x="134.2" y="333" width="1" height="3" fill="#fff" />
<rect x="137.4" y="333" width="1" height="3" fill="#fff" />
<rect x="140.6" y="333" width="1" height="3" fill="#fff" />
<rect x="143.8" y="333" width="1" height="3" fill="#fff" />
<rect x="147" y="333" width="1" height="3" fill="#fff" />
<rect x="150.2" y="333" width="1" height="3" fill="#fff" />
<rect x="153.4" y="333" width="1" height="3" fill="#fff" />
<rect x="156.6" y="333" width="1" height="3" fill="#fff" />
<rect x="159.8" y="333" width="1" height="3" fill="#fff" />
<rect x="163" y="333" width="1" height="3" fill="#fff" />
<rect x="94" y="267" width="3" height="65" fill="#000" />
<rect x="94" y="269.2" width="3" height="1" fill="#fff" />
<rect x="94" y="272.4" width="3" height="1" fill="#fff" />
<rect x="94" y="275.6" width="3" height="1" fill="#fff" />
<rect x="94" y="278.8" width="3" height="1" fill="#fff" />
<rect x="94" y="282" width="3" height="1" fill="#fff" />
<rect x="94" y="285.2" width="3" height="1" fill="#fff" />
<rect x="94" y="288.4" width="3" height="1" fill="#fff" />
<rect x="94" y="291.6" width="3" height="1" fill="#fff" />
<rect x="94" y="294.8" width="3" height="1" fill="#fff" />
<rect x="94" y="298" width="3" height="1" fill="#fff" />
<rect x="94" y="301.2" width="3" height="1" fill="#fff" />
<rect x="94" y="304.4" width="3" height="1" fill="#fff" />
<rect x="94" y="307.6" width="3" height="1" fill="#fff" />
<rect x="94" y="310.8" width="3" height="1" fill="#fff" />
<rect x="94" y="314" width="3" height="1" fill="#fff" />
<rect x="94" y="317.2" width="3" height="1" fill="#fff" />
<rect x="94" y="320.4" width="3" height="1" fill="#fff" />
<rect x="94" y="323.6" width="3" height="1" fill="#fff" />
<rect x="94" y="326.8" width="3" height="1" fill="#fff" />
<rect x="94" y="330" width="3" height="1" fill="#fff" />
<rect x="166" y="267" width="3" height="62" fill="#000" />
<rect x="166" y="269.2" width="3" height="1" fill="#fff" />
<rect x="166" y="272.4" width="3" height="1" fill="#fff" />
<rect x="166" y="275.6" width="3" height="1" fill="#fff" />
<rect x="166" y="278.8" width="3" height="1" fill="#fff" />
<rect x="166" y="282" width="3" height="1" fill="#fff" />
<rect x="166" y="285.2" width="3" height="1" fill="#fff" />
<rect x="166" y="288.4" width="3" height="1" fill="#fff" />
<rect x="166" y="291.6" width="3" height="1" fill="#fff" />
<rect x="166" y="294.8" width="3" height="1" fill="#fff" />
<rect x="166" y="298" width="3" height="1" fill="#fff" />
<rect x="166" y="301.2" width="3" height="1" fill="#fff" />
<rect x="166" y="304.4" width="3" height="1" fill="#fff" />
<rect x="166" y="307.6" width="3" height="1" fill="#fff" />
<rect x="166" y="310.8" width="3" height="1" fill="#fff" />
<rect x="166" y="314" width="3" height="1" fill="#fff" />
<rect x="166" y="317.2" width="3" height="1" fill="#fff" />
<rect x="166" y="320.4" width="3" height="1" fill="#fff" />
<rect x="166" y="323.6" width="3" height="1" fill="#fff" />
<rect x="166" y="326.8" width="3" height="1" fill="#fff" />
<rect x="167" y="356" width="66" height="59" fill="#000" />
<rect x="170" y="353" width="58" height="3" fill="#000" />
<rect x="170" y="415" width="60" height="1" fill="#000" />
<rect x="173" y="415" width="57" height="4" fill="#000" />
<rect x="173.4" y="353" width="1" height="3" fill="#fff" />
<rect x="187.5" y="353" width="1" height="3" fill="#fff" />
<rect x="190.5" y="353" width="1" height="3" fill="#fff" />
<rect x="193.7" y="353" width="1" height="3" fill="#fff" />
<rect x="204.5" y="353" width="1" height="3" fill="#fff" />
<rect x="207.6" y="353" width="1" height="3" fill="#fff" />
<rect x="210.6" y="353" width="1" height="3" fill="#fff" />
<rect x="213.7" y="353" width="1" height="3" fill="#fff" />
<rect x="224.2" y="353" width="1" height="3" fill="#fff" />
<rect x="181.4" y="416" width="1" height="3" fill="#fff" />
<rect x="184.6" y="416" width="1" height="3" fill="#fff" />
<rect x="187.8" y="416" width="1" height="3" fill="#fff" />
<rect x="198.3" y="416" width="1" height="3" fill="#fff" />
<rect x="201.5" y="416" width="1" height="3" fill="#fff" />
<rect x="204.5" y="416" width="1" height="3" fill="#fff" />
<rect x="215.4" y="416" width="1" height="3" fill="#fff" />
<rect x="218.2" y="416" width="1" height="3" fill="#fff" />
<rect x="221.3" y="416" width="1" height="3" fill="#fff" />
<rect x="224.5" y="416" width="1" height="3" fill="#fff" />
<rect x="167" y="364" width="3" height="1" fill="#fff" />
<rect x="167" y="367.2" width="3" height="1" fill="#fff" />
<rect x="167" y="370.4" width="3" height="1" fill="#fff" />
<rect x="167" y="381.3" width="3" height="1" fill="#fff" />
<rect x="167" y="384.2" width="3" height="1" fill="#fff" />
<rect x="167" y="387.1" width="3" height="1" fill="#fff" />
<rect x="167" y="398.5" width="3" height="1" fill="#fff" />
<rect x="167" y="401.7" width="3" height="1" fill="#fff" />
<rect x="167" y="404.8" width="3" height="1" fill="#fff" />
<rect x="230" y="357" width="3" height="1" fill="#fff" />
<rect x="230" y="360" width="3" height="1" fill="#fff" />
<rect x="230" y="362.9" width="3" height="1" fill="#fff" />
<rect x="230" y="376.6" width="3" height="1" fill="#fff" />
<rect x="230" y="379.7" width="3" height="1" fill="#fff" />
<rect x="230" y="382.7" width="3" height="1" fill="#fff" />
<rect x="230" y="393.7" width="3" height="1" fill="#fff" />
<rect x="230" y="396.6" width="3" height="1" fill="#fff" />
<rect x="230" y="399.5" width="3" height="1" fill="#fff" />
<rect x="230" y="410.5" width="3" height="1" fill="#fff" />
<rect x="230" y="413.2" width="3" height="1" fill="#fff" />
<rect x="48" y="389" width="96" height="96" fill="#000" />
<rect x="51" y="384" width="90" height="5" fill="#000" />
<rect x="52.2" y="384" width="1.25" height="5" fill="#fff" />
<rect x="54.65" y="384" width="1.25" height="5" fill="#fff" />
<rect x="57.1" y="384" width="1.25" height="5" fill="#fff" />
<rect x="59.55" y="384" width="1.25" height="5" fill="#fff" />
<rect x="62" y="384" width="1.25" height="5" fill="#fff" />
<rect x="64.45" y="384" width="1.25" height="5" fill="#fff" />
<rect x="66.9" y="384" width="1.25" height="5" fill="#fff" />
<rect x="69.35" y="384" width="1.25" height="5" fill="#fff" />
<rect x="71.8" y="384" width="1.25" height="5" fill="#fff" />
<rect x="74.25" y="384" width="1.25" height="5" fill="#fff" />
<rect x="76.7" y="384" width="1.25" height="5" fill="#fff" />
<rect x="79.15" y="384" width="1.25" height="5" fill="#fff" />
<rect x="81.6" y="384" width="1.25" height="5" fill="#fff" />
<rect x="84.05" y="384" width="1.25" height="5" fill="#fff" />
<rect x="86.5" y="384" width="1.25" height="5" fill="#fff" />
<rect x="88.95" y="384" width="1.25" height="5" fill="#fff" />
<rect x="91.4" y="384" width="1.25" height="5" fill="#fff" />
<rect x="93.85" y="384" width="1.25" height="5" fill="#fff" />
<rect x="96.3" y="384" width="1.25" height="5" fill="#fff" />
<rect x="98.75" y="384" width="1.25" height="5" fill="#fff" />
<rect x="101.2" y="384" width="1.25" height="5" fill="#fff" />
<rect x="103.65" y="384" width="1.25" height="5" fill="#fff" />
<rect x="106.1" y="384" width="1.25" height="5" fill="#fff" />
<rect x="108.55" y="384" width="1.25" height="5" fill="#fff" />
<rect x="111" y="384" width="1.25" height="5" fill="#fff" />
<rect x="113.45" y="384" width="1.25" height="5" fill="#fff" />
<rect x="115.9" y="384" width="1.25" height="5" fill="#fff" />
<rect x="118.35" y="384" width="1.25" height="5" fill="#fff" />
<rect x="120.8" y="384" width="1.25" height="5" fill="#fff" />
<rect x="123.25" y="384" width="1.25" height="5" fill="#fff" />
<rect x="125.7" y="384" width="1.25" height="5" fill="#fff" />
<rect x="128.15" y="384" width="1.25" height="5" fill="#fff" />
<rect x="130.6" y="384" width="1.25" height="5" fill="#fff" />
<rect x="133.05" y="384" width="1.25" height="5" fill="#fff" />
<rect x="135.5" y="384" width="1.25" height="5" fill="#fff" />
<rect x="137.95" y="384" width="1.25" height="5" fill="#fff" />
<rect x="140.4" y="384" width="0.6" height="5" fill="#fff" />
<rect x="51" y="485" width="90.3" height="6" fill="#000" />
<rect x="52.2" y="485" width="1.25" height="6" fill="#fff" />
<rect x="54.65" y="485" width="1.25" height="6" fill="#fff" />
<rect x="57.1" y="485" width="1.25" height="6" fill="#fff" />
<rect x="59.55" y="485" width="1.25" height="6" fill="#fff" />
<rect x="62" y="485" width="1.25" height="6" fill="#fff" />
<rect x="64.45" y="485" width="1.25" height="6" fill="#fff" />
<rect x="66.9" y="485" width="1.25" height="6" fill="#fff" />
<rect x="69.35" y="485" width="1.25" height="6" fill="#fff" />
<rect x="71.8" y="485" width="1.25" height="6" fill="#fff" />
<rect x="74.25" y="485" width="1.25" height="6" fill="#fff" />
<rect x="76.7" y="485" width="1.25" height="6" fill="#fff" />
<rect x="79.15" y="485" width="1.25" height="6" fill="#fff" />
<rect x="81.6" y="485" width="1.25" height="6" fill="#fff" />
<rect x="84.05" y="485" width="1.25" height="6" fill="#fff" />
<rect x="86.5" y="485" width="1.25" height="6" fill="#fff" />
<rect x="88.95" y="485" width="1.25" height="6" fill="#fff" />
<rect x="91.4" y="485" width="1.25" height="6" fill="#fff" />
<rect x="93.85" y="485" width="1.25" height="6" fill="#fff" />
<rect x="96.3" y="485" width="1.25" height="6" fill="#fff" />
<rect x="98.75" y="485" width="1.25" height="6" fill="#fff" />
<rect x="101.2" y="485" width="1.25" height="6" fill="#fff" />
<rect x="103.65" y="485" width="1.25" height="6" fill="#fff" />
<rect x="106.1" y="485" width="1.25" height="6" fill="#fff" />
<rect x="108.55" y="485" width="1.25" height="6" fill="#fff" />
<rect x="111" y="485" width="1.25" height="6" fill="#fff" />
<rect x="113.45" y="485" width="1.25" height="6" fill="#fff" />
<rect x="115.9" y="485" width="1.25" height="6" fill="#fff" />
<rect x="118.35" y="485" width="1.25" height="6" fill="#fff" />
<rect x="120.8" y="485" width="1.25" height="6" fill="#fff" />
<rect x="123.25" y="485" width="1.25" height="6" fill="#fff" />
<rect x="125.7" y="485" width="1.25" height="6" fill="#fff" />
<rect x="128.15" y="485" width="1.25" height="6" fill="#fff" />
<rect x="130.6" y="485" width="1.25" height="6" fill="#fff" />
<rect x="133.05" y="485" width="1.25" height="6" fill="#fff" />
<rect x="135.5" y="485" width="1.25" height="6" fill="#fff" />
<rect x="137.95" y="485" width="1.25" height="6" fill="#fff" />
<rect x="140.4" y="485" width="0.9" height="6" fill="#fff" />
<rect x="42" y="392" width="6" height="91" fill="#000" />
<rect x="42" y="393.3" width="6" height="1.15" fill="#fff" />
<rect x="42" y="395.75" width="6" height="1.15" fill="#fff" />
<rect x="42" y="398.2" width="6" height="1.15" fill="#fff" />
<rect x="42" y="400.65" width="6" height="1.15" fill="#fff" />
<rect x="42" y="403.1" width="6" height="1.15" fill="#fff" />
<rect x="42" y="405.55" width="6" height="1.15" fill="#fff" />
<rect x="42" y="408" width="6" height="1.15" fill="#fff" />
<rect x="42" y="410.45" width="6" height="1.15" fill="#fff" />
<rect x="42" y="412.9" width="6" height="1.15" fill="#fff" />
<rect x="42" y="415.35" width="6" height="1.15" fill="#fff" />
<rect x="42" y="417.8" width="6" height="1.15" fill="#fff" />
<rect x="42" y="420.25" width="6" height="1.15" fill="#fff" />
<rect x="42" y="422.7" width="6" height="1.15" fill="#fff" />
<rect x="42" y="425.15" width="6" height="1.15" fill="#fff" />
<rect x="42" y="427.6" width="6" height="1.15" fill="#fff" />
<rect x="42" y="430.05" width="6" height="1.15" fill="#fff" />
<rect x="42" y="432.5" width="6" height="1.15" fill="#fff" />
<rect x="42" y="434.95" width="6" height="1.15" fill="#fff" />
<rect x="42" y="437.4" width="6" height="1.15" fill="#fff" />
<rect x="42" y="439.85" width="6" height="1.15" fill="#fff" />
<rect x="42" y="442.3" width="6" height="1.15" fill="#fff" />
<rect x="42" y="444.75" width="6" height="1.15" fill="#fff" />
<rect x="42" y="447.2" width="6" height="1.15" fill="#fff" />
<rect x="42" y="449.65" width="6" height="1.15" fill="#fff" />
<rect x="42" y="452.1" width="6" height="1.15" fill="#fff" />
<rect x="42" y="454.55" width="6" height="1.15" fill="#fff" />
<rect x="42" y="457" width="6" height="1.15" fill="#fff" />
<rect x="42" y="459.45" width="6" height="1.15" fill="#fff" />
<rect x="42" y="461.9" width="6" height="1.15" fill="#fff" />
<rect x="42" y="464.35" width="6" height="1.15" fill="#fff" />
<rect x="42" y="466.8" width="6" height="1.15" fill="#fff" />
<rect x="42" y="469.25" width="6" height="1.15" fill="#fff" />
<rect x="42" y="471.7" width="6" height="1.15" fill="#fff" />
<rect x="42" y="474.15" width="6" height="1.15" fill="#fff" />
<rect x="42" y="476.6" width="6" height="1.15" fill="#fff" />
<rect x="42" y="479.05" width="6" height="1.15" fill="#fff" />
<rect x="42" y="481.5" width="6" height="1.15" fill="#fff" />
<rect x="144" y="392" width="5.3" height="90.3" fill="#000" />
<rect x="144" y="393.3" width="5.3" height="1.15" fill="#fff" />
<rect x="144" y="395.75" width="5.3" height="1.15" fill="#fff" />
<rect x="144" y="398.2" width="5.3" height="1.15" fill="#fff" />
<rect x="144" y="400.65" width="5.3" height="1.15" fill="#fff" />
<rect x="144" y="403.1" width="5.3" height="1.15" fill="#fff" />
<rect x="144" y="405.55" width="5.3" height="1.15" fill="#fff" />
<rect x="144" y="408" width="5.3" height="1.15" fill="#fff" />
<rect x="144" y="410.45" width="5.3" height="1.15" fill="#fff" />
<rect x="144" y="412.9" width="5.3" height="1.15" fill="#fff" />
<rect x="144" y="415.35" width="5.3" height="1.15" fill="#fff" />
<rect x="144" y="417.8" width="5.3" height="1.15" fill="#fff" />
<rect x="144" y="420.25" width="5.3" height="1.15" fill="#fff" />
<rect x="144" y="422.7" width="5.3" height="1.15" fill="#fff" />
<rect x="144" y="425.15" width="5.3" height="1.15" fill="#fff" />
<rect x="144" y="427.6" width="5.3" height="1.15" fill="#fff" />
<rect x="144" y="430.05" width="5.3" height="1.15" fill="#fff" />
<rect x="144" y="432.5" width="5.3" height="1.15" fill="#fff" />
<rect x="144" y="434.95" width="5.3" height="1.15" fill="#fff" />
<rect x="144" y="437.4" width="5.3" height="1.15" fill="#fff" />
<rect x="144" y="439.85" width="5.3" height="1.15" fill="#fff" />
<rect x="144" y="442.3" width="5.3" height="1.15" fill="#fff" />
<rect x="144" y="444.75" width="5.3" height="1.15" fill="#fff" />
<rect x="144" y="447.2" width="5.3" height="1.15" fill="#fff" />
<rect x="144" y="449.65" width="5.3" height="1.15" fill="#fff" />
<rect x="144" y="452.1" width="5.3" height="1.15" fill="#fff" />
<rect x="144" y="454.55" width="5.3" height="1.15" fill="#fff" />
<rect x="144" y="457" width="5.3" height="1.15" fill="#fff" />
<rect x="144" y="459.45" width="5.3" height="1.15" fill="#fff" />
<rect x="144" y="461.9" width="5.3" height="1.15" fill="#fff" />
<rect x="144" y="464.35" width="5.3" height="1.15" fill="#fff" />
<rect x="144" y="466.8" width="5.3" height="1.15" fill="#fff" />
<rect x="144" y="469.25" width="5.3" height="1.15" fill="#fff" />
<rect x="144" y="471.7" width="5.3" height="1.15" fill="#fff" />
<rect x="144" y="474.15" width="5.3" height="1.15" fill="#fff" />
<rect x="144" y="476.6" width="5.3" height="1.15" fill="#fff" />
<rect x="144" y="479.05" width="5.3" height="1.15" fill="#fff" />
<rect x="144" y="481.5" width="5.3" height="0.8" fill="#fff" />
<rect x="82" y="430" width="28" height="14" fill="#fff" />
</g>
<circle cx="158" cy="324.7" r="3" fill="#fff"/>
<circle cx="177" cy="409.5" r="2.6" fill="#fff"/>
<circle cx="137" cy="479" r="3.1" fill="#fff"/>
<text transform="translate(96.1,441.2) scale(0.8,1)" font-size="12.5" text-anchor="middle" letter-spacing="3.75" fill="#000" >CPU</text>
<g shape-rendering="crispEdges">
<rect x="408.5" y="347.5" width="226" height="18" fill="#fff" stroke="#000" stroke-width="1"/>
<rect x="408" y="353" width="7" height="1" fill="#000" />
<rect x="408" y="360" width="7" height="1" fill="#000" />
<rect x="415" y="347" width="1.3" height="17" fill="#000" />
<rect x="417.2" y="347" width="1.8" height="17" fill="#000" />
<rect x="419" y="351" width="3" height="2" fill="#000" />
<rect x="421" y="353" width="1" height="2" fill="#000" />
<rect x="421" y="354" width="6" height="1" fill="#000" />
<rect x="426" y="348" width="1" height="7" fill="#000" />
<rect x="427" y="352" width="2" height="1" fill="#000" />
<rect x="428" y="352" width="1" height="10" fill="#000" />
<rect x="419" y="361" width="10" height="1" fill="#000" />
<rect x="626" y="354" width="9" height="1" fill="#000" />
<rect x="626" y="361" width="9" height="1" fill="#000" />
<rect x="623" y="347" width="3" height="17" fill="#000" />
<rect x="613" y="352" width="1" height="10" fill="#000" />
<rect x="613" y="352" width="3" height="1" fill="#000" />
<rect x="615" y="348" width="1" height="7" fill="#000" />
<rect x="615" y="354" width="6" height="1" fill="#000" />
<rect x="620" y="352" width="1" height="3" fill="#000" />
<rect x="620" y="352" width="3" height="1" fill="#000" />
<rect x="613" y="361" width="10" height="1" fill="#000" />
<rect x="433.9" y="349" width="79.7" height="7" fill="#000" />
<rect x="433.1" y="355" width="81.2" height="8" fill="#000" />
<rect x="433.9" y="356" width="0.9" height="5" fill="#fff" />
<rect x="439" y="362" width="1" height="1" fill="#fff" />
<rect x="442.02" y="362" width="1" height="1" fill="#fff" />
<rect x="445.04" y="362" width="1" height="1" fill="#fff" />
<rect x="448.06" y="362" width="1" height="1" fill="#fff" />
<rect x="451.08" y="362" width="1" height="1" fill="#fff" />
<rect x="454.1" y="362" width="1" height="1" fill="#fff" />
<rect x="457.12" y="362" width="1" height="1" fill="#fff" />
<rect x="460.14" y="362" width="1" height="1" fill="#fff" />
<rect x="463.16" y="362" width="1" height="1" fill="#fff" />
<rect x="466.18" y="362" width="1" height="1" fill="#fff" />
<rect x="469.2" y="362" width="1" height="1" fill="#fff" />
<rect x="472.22" y="362" width="1" height="1" fill="#fff" />
<rect x="475.24" y="362" width="1" height="1" fill="#fff" />
<rect x="478.26" y="362" width="1" height="1" fill="#fff" />
<rect x="481.28" y="362" width="1" height="1" fill="#fff" />
<rect x="484.3" y="362" width="1" height="1" fill="#fff" />
<rect x="487.32" y="362" width="1" height="1" fill="#fff" />
<rect x="490.34" y="362" width="1" height="1" fill="#fff" />
<rect x="493.36" y="362" width="1" height="1" fill="#fff" />
<rect x="496.38" y="362" width="1" height="1" fill="#fff" />
<rect x="499.4" y="362" width="1" height="1" fill="#fff" />
<rect x="502.42" y="362" width="1" height="1" fill="#fff" />
<rect x="505.44" y="362" width="1" height="1" fill="#fff" />
<rect x="508.46" y="362" width="1" height="1" fill="#fff" />
<rect x="511.48" y="362" width="1" height="1" fill="#fff" />
<rect x="435.7" y="356" width="4.2" height="5" fill="#fff" />
<rect x="437.8" y="350" width="1.1" height="4" fill="#fff" />
<rect x="441.74" y="356" width="4.2" height="5" fill="#fff" />
<rect x="443.84" y="350" width="1.1" height="4" fill="#fff" />
<rect x="447.78" y="356" width="4.2" height="5" fill="#fff" />
<rect x="449.88" y="350" width="1.1" height="4" fill="#fff" />
<rect x="453.82" y="356" width="4.2" height="5" fill="#fff" />
<rect x="455.92" y="350" width="1.1" height="4" fill="#fff" />
<rect x="459.86" y="356" width="4.2" height="5" fill="#fff" />
<rect x="461.96" y="350" width="1.1" height="4" fill="#fff" />
<rect x="465.9" y="356" width="4.2" height="5" fill="#fff" />
<rect x="468" y="350" width="1.1" height="8.5" fill="#fff" />
<rect x="471.94" y="356" width="4.2" height="5" fill="#fff" />
<rect x="474.04" y="350" width="1.1" height="4" fill="#fff" />
<rect x="477.98" y="356" width="4.2" height="5" fill="#fff" />
<rect x="480.08" y="350" width="1.1" height="4" fill="#fff" />
<rect x="484.02" y="356" width="4.2" height="5" fill="#fff" />
<rect x="486.12" y="350" width="1.1" height="4" fill="#fff" />
<rect x="490.06" y="356" width="4.2" height="5" fill="#fff" />
<rect x="492.16" y="350" width="1.1" height="4" fill="#fff" />
<rect x="496.1" y="356" width="4.2" height="5" fill="#fff" />
<rect x="498.2" y="350" width="1.1" height="4" fill="#fff" />
<rect x="502.14" y="356" width="4.2" height="5" fill="#fff" />
<rect x="504.24" y="350" width="1.1" height="4" fill="#fff" />
<rect x="508.18" y="356" width="4.2" height="5" fill="#fff" />
<rect x="510.28" y="350" width="1.1" height="4" fill="#fff" />
<rect x="530.7" y="349" width="77.4" height="7" fill="#000" />
<rect x="529.9" y="355" width="78.9" height="8" fill="#000" />
<rect x="606.7" y="356" width="1.5" height="5" fill="#fff" />
<rect x="534.2" y="362" width="1" height="1" fill="#fff" />
<rect x="537.12" y="362" width="1" height="1" fill="#fff" />
<rect x="540.04" y="362" width="1" height="1" fill="#fff" />
<rect x="542.96" y="362" width="1" height="1" fill="#fff" />
<rect x="545.88" y="362" width="1" height="1" fill="#fff" />
<rect x="548.8" y="362" width="1" height="1" fill="#fff" />
<rect x="551.72" y="362" width="1" height="1" fill="#fff" />
<rect x="554.64" y="362" width="1" height="1" fill="#fff" />
<rect x="557.56" y="362" width="1" height="1" fill="#fff" />
<rect x="560.48" y="362" width="1" height="1" fill="#fff" />
<rect x="563.4" y="362" width="1" height="1" fill="#fff" />
<rect x="566.32" y="362" width="1" height="1" fill="#fff" />
<rect x="569.24" y="362" width="1" height="1" fill="#fff" />
<rect x="572.16" y="362" width="1" height="1" fill="#fff" />
<rect x="575.08" y="362" width="1" height="1" fill="#fff" />
<rect x="578" y="362" width="1" height="1" fill="#fff" />
<rect x="580.92" y="362" width="1" height="1" fill="#fff" />
<rect x="583.84" y="362" width="1" height="1" fill="#fff" />
<rect x="586.76" y="362" width="1" height="1" fill="#fff" />
<rect x="589.68" y="362" width="1" height="1" fill="#fff" />
<rect x="592.6" y="362" width="1" height="1" fill="#fff" />
<rect x="595.52" y="362" width="1" height="1" fill="#fff" />
<rect x="598.44" y="362" width="1" height="1" fill="#fff" />
<rect x="601.36" y="362" width="1" height="1" fill="#fff" />
<rect x="604.28" y="362" width="1" height="1" fill="#fff" />
<rect x="530.9" y="356" width="3.9" height="5" fill="#fff" />
<rect x="532.85" y="350" width="1.1" height="4" fill="#fff" />
<rect x="536.74" y="356" width="3.9" height="5" fill="#fff" />
<rect x="538.69" y="350" width="1.1" height="4" fill="#fff" />
<rect x="542.58" y="356" width="3.9" height="5" fill="#fff" />
<rect x="544.53" y="350" width="1.1" height="4" fill="#fff" />
<rect x="548.42" y="356" width="3.9" height="5" fill="#fff" />
<rect x="550.37" y="350" width="1.1" height="8.5" fill="#fff" />
<rect x="554.26" y="356" width="3.9" height="5" fill="#fff" />
<rect x="556.21" y="350" width="1.1" height="4" fill="#fff" />
<rect x="560.1" y="356" width="3.9" height="5" fill="#fff" />
<rect x="562.05" y="350" width="1.1" height="8.5" fill="#fff" />
<rect x="565.94" y="356" width="3.9" height="5" fill="#fff" />
<rect x="567.89" y="350" width="1.1" height="4" fill="#fff" />
<rect x="571.78" y="356" width="3.9" height="5" fill="#fff" />
<rect x="573.73" y="350" width="1.1" height="4" fill="#fff" />
<rect x="577.62" y="356" width="3.9" height="5" fill="#fff" />
<rect x="579.57" y="350" width="1.1" height="4" fill="#fff" />
<rect x="583.46" y="356" width="3.9" height="5" fill="#fff" />
<rect x="585.41" y="350" width="1.1" height="4" fill="#fff" />
<rect x="589.3" y="356" width="3.9" height="5" fill="#fff" />
<rect x="591.25" y="350" width="1.1" height="4" fill="#fff" />
<rect x="595.14" y="356" width="3.9" height="5" fill="#fff" />
<rect x="597.09" y="350" width="1.1" height="4" fill="#fff" />
<rect x="600.98" y="356" width="3.9" height="5" fill="#fff" />
<rect x="602.93" y="350" width="1.1" height="4" fill="#fff" />
<rect x="408.5" y="367.5" width="226" height="18" fill="#fff" stroke="#000" stroke-width="1"/>
<rect x="408" y="373" width="7" height="1" fill="#000" />
<rect x="408" y="380" width="7" height="1" fill="#000" />
<rect x="415" y="367" width="1.3" height="17" fill="#000" />
<rect x="417.2" y="367" width="1.8" height="17" fill="#000" />
<rect x="419" y="371" width="3" height="2" fill="#000" />
<rect x="421" y="373" width="1" height="2" fill="#000" />
<rect x="421" y="374" width="6" height="1" fill="#000" />
<rect x="426" y="368" width="1" height="7" fill="#000" />
<rect x="427" y="372" width="2" height="1" fill="#000" />
<rect x="428" y="372" width="1" height="10" fill="#000" />
<rect x="419" y="381" width="10" height="1" fill="#000" />
<rect x="626" y="374" width="9" height="1" fill="#000" />
<rect x="626" y="381" width="9" height="1" fill="#000" />
<rect x="623" y="367" width="3" height="17" fill="#000" />
<rect x="613" y="372" width="1" height="10" fill="#000" />
<rect x="613" y="372" width="3" height="1" fill="#000" />
<rect x="615" y="368" width="1" height="7" fill="#000" />
<rect x="615" y="374" width="6" height="1" fill="#000" />
<rect x="620" y="372" width="1" height="3" fill="#000" />
<rect x="620" y="372" width="3" height="1" fill="#000" />
<rect x="613" y="381" width="10" height="1" fill="#000" />
<rect x="433.9" y="369" width="79.7" height="7" fill="#000" />
<rect x="433.1" y="375" width="81.2" height="8" fill="#000" />
<rect x="433.9" y="376" width="0.9" height="5" fill="#fff" />
<rect x="439" y="382" width="1" height="1" fill="#fff" />
<rect x="442.02" y="382" width="1" height="1" fill="#fff" />
<rect x="445.04" y="382" width="1" height="1" fill="#fff" />
<rect x="448.06" y="382" width="1" height="1" fill="#fff" />
<rect x="451.08" y="382" width="1" height="1" fill="#fff" />
<rect x="454.1" y="382" width="1" height="1" fill="#fff" />
<rect x="457.12" y="382" width="1" height="1" fill="#fff" />
<rect x="460.14" y="382" width="1" height="1" fill="#fff" />
<rect x="463.16" y="382" width="1" height="1" fill="#fff" />
<rect x="466.18" y="382" width="1" height="1" fill="#fff" />
<rect x="469.2" y="382" width="1" height="1" fill="#fff" />
<rect x="472.22" y="382" width="1" height="1" fill="#fff" />
<rect x="475.24" y="382" width="1" height="1" fill="#fff" />
<rect x="478.26" y="382" width="1" height="1" fill="#fff" />
<rect x="481.28" y="382" width="1" height="1" fill="#fff" />
<rect x="484.3" y="382" width="1" height="1" fill="#fff" />
<rect x="487.32" y="382" width="1" height="1" fill="#fff" />
<rect x="490.34" y="382" width="1" height="1" fill="#fff" />
<rect x="493.36" y="382" width="1" height="1" fill="#fff" />
<rect x="496.38" y="382" width="1" height="1" fill="#fff" />
<rect x="499.4" y="382" width="1" height="1" fill="#fff" />
<rect x="502.42" y="382" width="1" height="1" fill="#fff" />
<rect x="505.44" y="382" width="1" height="1" fill="#fff" />
<rect x="508.46" y="382" width="1" height="1" fill="#fff" />
<rect x="511.48" y="382" width="1" height="1" fill="#fff" />
<rect x="435.7" y="376" width="4.2" height="5" fill="#fff" />
<rect x="437.8" y="370" width="1.1" height="4" fill="#fff" />
<rect x="441.74" y="376" width="4.2" height="5" fill="#fff" />
<rect x="443.84" y="370" width="1.1" height="4" fill="#fff" />
<rect x="447.78" y="376" width="4.2" height="5" fill="#fff" />
<rect x="449.88" y="370" width="1.1" height="4" fill="#fff" />
<rect x="453.82" y="376" width="4.2" height="5" fill="#fff" />
<rect x="455.92" y="370" width="1.1" height="4" fill="#fff" />
<rect x="459.86" y="376" width="4.2" height="5" fill="#fff" />
<rect x="461.96" y="370" width="1.1" height="4" fill="#fff" />
<rect x="465.9" y="376" width="4.2" height="5" fill="#fff" />
<rect x="468" y="370" width="1.1" height="8.5" fill="#fff" />
<rect x="471.94" y="376" width="4.2" height="5" fill="#fff" />
<rect x="474.04" y="370" width="1.1" height="4" fill="#fff" />
<rect x="477.98" y="376" width="4.2" height="5" fill="#fff" />
<rect x="480.08" y="370" width="1.1" height="4" fill="#fff" />
<rect x="484.02" y="376" width="4.2" height="5" fill="#fff" />
<rect x="486.12" y="370" width="1.1" height="4" fill="#fff" />
<rect x="490.06" y="376" width="4.2" height="5" fill="#fff" />
<rect x="492.16" y="370" width="1.1" height="4" fill="#fff" />
<rect x="496.1" y="376" width="4.2" height="5" fill="#fff" />
<rect x="498.2" y="370" width="1.1" height="4" fill="#fff" />
<rect x="502.14" y="376" width="4.2" height="5" fill="#fff" />
<rect x="504.24" y="370" width="1.1" height="4" fill="#fff" />
<rect x="508.18" y="376" width="4.2" height="5" fill="#fff" />
<rect x="510.28" y="370" width="1.1" height="4" fill="#fff" />
<rect x="530.7" y="369" width="77.4" height="7" fill="#000" />
<rect x="529.9" y="375" width="78.9" height="8" fill="#000" />
<rect x="606.7" y="376" width="1.5" height="5" fill="#fff" />
<rect x="534.2" y="382" width="1" height="1" fill="#fff" />
<rect x="537.12" y="382" width="1" height="1" fill="#fff" />
<rect x="540.04" y="382" width="1" height="1" fill="#fff" />
<rect x="542.96" y="382" width="1" height="1" fill="#fff" />
<rect x="545.88" y="382" width="1" height="1" fill="#fff" />
<rect x="548.8" y="382" width="1" height="1" fill="#fff" />
<rect x="551.72" y="382" width="1" height="1" fill="#fff" />
<rect x="554.64" y="382" width="1" height="1" fill="#fff" />
<rect x="557.56" y="382" width="1" height="1" fill="#fff" />
<rect x="560.48" y="382" width="1" height="1" fill="#fff" />
<rect x="563.4" y="382" width="1" height="1" fill="#fff" />
<rect x="566.32" y="382" width="1" height="1" fill="#fff" />
<rect x="569.24" y="382" width="1" height="1" fill="#fff" />
<rect x="572.16" y="382" width="1" height="1" fill="#fff" />
<rect x="575.08" y="382" width="1" height="1" fill="#fff" />
<rect x="578" y="382" width="1" height="1" fill="#fff" />
<rect x="580.92" y="382" width="1" height="1" fill="#fff" />
<rect x="583.84" y="382" width="1" height="1" fill="#fff" />
<rect x="586.76" y="382" width="1" height="1" fill="#fff" />
<rect x="589.68" y="382" width="1" height="1" fill="#fff" />
<rect x="592.6" y="382" width="1" height="1" fill="#fff" />
<rect x="595.52" y="382" width="1" height="1" fill="#fff" />
<rect x="598.44" y="382" width="1" height="1" fill="#fff" />
<rect x="601.36" y="382" width="1" height="1" fill="#fff" />
<rect x="604.28" y="382" width="1" height="1" fill="#fff" />
<rect x="530.9" y="376" width="3.9" height="5" fill="#fff" />
<rect x="532.85" y="370" width="1.1" height="4" fill="#fff" />
<rect x="536.74" y="376" width="3.9" height="5" fill="#fff" />
<rect x="538.69" y="370" width="1.1" height="4" fill="#fff" />
<rect x="542.58" y="376" width="3.9" height="5" fill="#fff" />
<rect x="544.53" y="370" width="1.1" height="4" fill="#fff" />
<rect x="548.42" y="376" width="3.9" height="5" fill="#fff" />
<rect x="550.37" y="370" width="1.1" height="8.5" fill="#fff" />
<rect x="554.26" y="376" width="3.9" height="5" fill="#fff" />
<rect x="556.21" y="370" width="1.1" height="4" fill="#fff" />
<rect x="560.1" y="376" width="3.9" height="5" fill="#fff" />
<rect x="562.05" y="370" width="1.1" height="8.5" fill="#fff" />
<rect x="565.94" y="376" width="3.9" height="5" fill="#fff" />
<rect x="567.89" y="370" width="1.1" height="4" fill="#fff" />
<rect x="571.78" y="376" width="3.9" height="5" fill="#fff" />
<rect x="573.73" y="370" width="1.1" height="4" fill="#fff" />
<rect x="577.62" y="376" width="3.9" height="5" fill="#fff" />
<rect x="579.57" y="370" width="1.1" height="4" fill="#fff" />
<rect x="583.46" y="376" width="3.9" height="5" fill="#fff" />
<rect x="585.41" y="370" width="1.1" height="4" fill="#fff" />
<rect x="589.3" y="376" width="3.9" height="5" fill="#fff" />
<rect x="591.25" y="370" width="1.1" height="4" fill="#fff" />
<rect x="595.14" y="376" width="3.9" height="5" fill="#fff" />
<rect x="597.09" y="370" width="1.1" height="4" fill="#fff" />
<rect x="600.98" y="376" width="3.9" height="5" fill="#fff" />
<rect x="602.93" y="370" width="1.1" height="4" fill="#fff" />
<rect x="408.5" y="387.5" width="226" height="18" fill="#fff" stroke="#000" stroke-width="1"/>
<rect x="408" y="393" width="7" height="1" fill="#000" />
<rect x="408" y="400" width="7" height="1" fill="#000" />
<rect x="415" y="387" width="1.3" height="17" fill="#000" />
<rect x="417.2" y="387" width="1.8" height="17" fill="#000" />
<rect x="419" y="391" width="3" height="2" fill="#000" />
<rect x="421" y="393" width="1" height="2" fill="#000" />
<rect x="421" y="394" width="6" height="1" fill="#000" />
<rect x="426" y="388" width="1" height="7" fill="#000" />
<rect x="427" y="392" width="2" height="1" fill="#000" />
<rect x="428" y="392" width="1" height="10" fill="#000" />
<rect x="419" y="401" width="10" height="1" fill="#000" />
<rect x="626" y="394" width="9" height="1" fill="#000" />
<rect x="626" y="401" width="9" height="1" fill="#000" />
<rect x="623" y="387" width="3" height="17" fill="#000" />
<rect x="613" y="392" width="1" height="10" fill="#000" />
<rect x="613" y="392" width="3" height="1" fill="#000" />
<rect x="615" y="388" width="1" height="7" fill="#000" />
<rect x="615" y="394" width="6" height="1" fill="#000" />
<rect x="620" y="392" width="1" height="3" fill="#000" />
<rect x="620" y="392" width="3" height="1" fill="#000" />
<rect x="613" y="401" width="10" height="1" fill="#000" />
<rect x="433.9" y="389" width="79.7" height="7" fill="#000" />
<rect x="433.1" y="395" width="81.2" height="8" fill="#000" />
<rect x="433.9" y="396" width="0.9" height="5" fill="#fff" />
<rect x="439" y="402" width="1" height="1" fill="#fff" />
<rect x="442.02" y="402" width="1" height="1" fill="#fff" />
<rect x="445.04" y="402" width="1" height="1" fill="#fff" />
<rect x="448.06" y="402" width="1" height="1" fill="#fff" />
<rect x="451.08" y="402" width="1" height="1" fill="#fff" />
<rect x="454.1" y="402" width="1" height="1" fill="#fff" />
<rect x="457.12" y="402" width="1" height="1" fill="#fff" />
<rect x="460.14" y="402" width="1" height="1" fill="#fff" />
<rect x="463.16" y="402" width="1" height="1" fill="#fff" />
<rect x="466.18" y="402" width="1" height="1" fill="#fff" />
<rect x="469.2" y="402" width="1" height="1" fill="#fff" />
<rect x="472.22" y="402" width="1" height="1" fill="#fff" />
<rect x="475.24" y="402" width="1" height="1" fill="#fff" />
<rect x="478.26" y="402" width="1" height="1" fill="#fff" />
<rect x="481.28" y="402" width="1" height="1" fill="#fff" />
<rect x="484.3" y="402" width="1" height="1" fill="#fff" />
<rect x="487.32" y="402" width="1" height="1" fill="#fff" />
<rect x="490.34" y="402" width="1" height="1" fill="#fff" />
<rect x="493.36" y="402" width="1" height="1" fill="#fff" />
<rect x="496.38" y="402" width="1" height="1" fill="#fff" />
<rect x="499.4" y="402" width="1" height="1" fill="#fff" />
<rect x="502.42" y="402" width="1" height="1" fill="#fff" />
<rect x="505.44" y="402" width="1" height="1" fill="#fff" />
<rect x="508.46" y="402" width="1" height="1" fill="#fff" />
<rect x="511.48" y="402" width="1" height="1" fill="#fff" />
<rect x="435.7" y="396" width="4.2" height="5" fill="#fff" />
<rect x="437.8" y="390" width="1.1" height="4" fill="#fff" />
<rect x="441.74" y="396" width="4.2" height="5" fill="#fff" />
<rect x="443.84" y="390" width="1.1" height="4" fill="#fff" />
<rect x="447.78" y="396" width="4.2" height="5" fill="#fff" />
<rect x="449.88" y="390" width="1.1" height="4" fill="#fff" />
<rect x="453.82" y="396" width="4.2" height="5" fill="#fff" />
<rect x="455.92" y="390" width="1.1" height="4" fill="#fff" />
<rect x="459.86" y="396" width="4.2" height="5" fill="#fff" />
<rect x="461.96" y="390" width="1.1" height="4" fill="#fff" />
<rect x="465.9" y="396" width="4.2" height="5" fill="#fff" />
<rect x="468" y="390" width="1.1" height="8.5" fill="#fff" />
<rect x="471.94" y="396" width="4.2" height="5" fill="#fff" />
<rect x="474.04" y="390" width="1.1" height="4" fill="#fff" />
<rect x="477.98" y="396" width="4.2" height="5" fill="#fff" />
<rect x="480.08" y="390" width="1.1" height="4" fill="#fff" />
<rect x="484.02" y="396" width="4.2" height="5" fill="#fff" />
<rect x="486.12" y="390" width="1.1" height="4" fill="#fff" />
<rect x="490.06" y="396" width="4.2" height="5" fill="#fff" />
<rect x="492.16" y="390" width="1.1" height="4" fill="#fff" />
<rect x="496.1" y="396" width="4.2" height="5" fill="#fff" />
<rect x="498.2" y="390" width="1.1" height="4" fill="#fff" />
<rect x="502.14" y="396" width="4.2" height="5" fill="#fff" />
<rect x="504.24" y="390" width="1.1" height="4" fill="#fff" />
<rect x="508.18" y="396" width="4.2" height="5" fill="#fff" />
<rect x="510.28" y="390" width="1.1" height="4" fill="#fff" />
<rect x="530.7" y="389" width="77.4" height="7" fill="#000" />
<rect x="529.9" y="395" width="78.9" height="8" fill="#000" />
<rect x="606.7" y="396" width="1.5" height="5" fill="#fff" />
<rect x="534.2" y="402" width="1" height="1" fill="#fff" />
<rect x="537.12" y="402" width="1" height="1" fill="#fff" />
<rect x="540.04" y="402" width="1" height="1" fill="#fff" />
<rect x="542.96" y="402" width="1" height="1" fill="#fff" />
<rect x="545.88" y="402" width="1" height="1" fill="#fff" />
<rect x="548.8" y="402" width="1" height="1" fill="#fff" />
<rect x="551.72" y="402" width="1" height="1" fill="#fff" />
<rect x="554.64" y="402" width="1" height="1" fill="#fff" />
<rect x="557.56" y="402" width="1" height="1" fill="#fff" />
<rect x="560.48" y="402" width="1" height="1" fill="#fff" />
<rect x="563.4" y="402" width="1" height="1" fill="#fff" />
<rect x="566.32" y="402" width="1" height="1" fill="#fff" />
<rect x="569.24" y="402" width="1" height="1" fill="#fff" />
<rect x="572.16" y="402" width="1" height="1" fill="#fff" />
<rect x="575.08" y="402" width="1" height="1" fill="#fff" />
<rect x="578" y="402" width="1" height="1" fill="#fff" />
<rect x="580.92" y="402" width="1" height="1" fill="#fff" />
<rect x="583.84" y="402" width="1" height="1" fill="#fff" />
<rect x="586.76" y="402" width="1" height="1" fill="#fff" />
<rect x="589.68" y="402" width="1" height="1" fill="#fff" />
<rect x="592.6" y="402" width="1" height="1" fill="#fff" />
<rect x="595.52" y="402" width="1" height="1" fill="#fff" />
<rect x="598.44" y="402" width="1" height="1" fill="#fff" />
<rect x="601.36" y="402" width="1" height="1" fill="#fff" />
<rect x="604.28" y="402" width="1" height="1" fill="#fff" />
<rect x="530.9" y="396" width="3.9" height="5" fill="#fff" />
<rect x="532.85" y="390" width="1.1" height="4" fill="#fff" />
<rect x="536.74" y="396" width="3.9" height="5" fill="#fff" />
<rect x="538.69" y="390" width="1.1" height="4" fill="#fff" />
<rect x="542.58" y="396" width="3.9" height="5" fill="#fff" />
<rect x="544.53" y="390" width="1.1" height="4" fill="#fff" />
<rect x="548.42" y="396" width="3.9" height="5" fill="#fff" />
<rect x="550.37" y="390" width="1.1" height="8.5" fill="#fff" />
<rect x="554.26" y="396" width="3.9" height="5" fill="#fff" />
<rect x="556.21" y="390" width="1.1" height="4" fill="#fff" />
<rect x="560.1" y="396" width="3.9" height="5" fill="#fff" />
<rect x="562.05" y="390" width="1.1" height="8.5" fill="#fff" />
<rect x="565.94" y="396" width="3.9" height="5" fill="#fff" />
<rect x="567.89" y="390" width="1.1" height="4" fill="#fff" />
<rect x="571.78" y="396" width="3.9" height="5" fill="#fff" />
<rect x="573.73" y="390" width="1.1" height="4" fill="#fff" />
<rect x="577.62" y="396" width="3.9" height="5" fill="#fff" />
<rect x="579.57" y="390" width="1.1" height="4" fill="#fff" />
<rect x="583.46" y="396" width="3.9" height="5" fill="#fff" />
<rect x="585.41" y="390" width="1.1" height="4" fill="#fff" />
<rect x="589.3" y="396" width="3.9" height="5" fill="#fff" />
<rect x="591.25" y="390" width="1.1" height="4" fill="#fff" />
<rect x="595.14" y="396" width="3.9" height="5" fill="#fff" />
<rect x="597.09" y="390" width="1.1" height="4" fill="#fff" />
<rect x="600.98" y="396" width="3.9" height="5" fill="#fff" />
<rect x="602.93" y="390" width="1.1" height="4" fill="#fff" />
<rect x="408.5" y="407.5" width="226" height="18" fill="#fff" stroke="#000" stroke-width="1"/>
<rect x="408" y="413" width="7" height="1" fill="#000" />
<rect x="408" y="420" width="7" height="1" fill="#000" />
<rect x="415" y="407" width="1.3" height="17" fill="#000" />
<rect x="417.2" y="407" width="1.8" height="17" fill="#000" />
<rect x="419" y="411" width="3" height="2" fill="#000" />
<rect x="421" y="413" width="1" height="2" fill="#000" />
<rect x="421" y="414" width="6" height="1" fill="#000" />
<rect x="426" y="408" width="1" height="7" fill="#000" />
<rect x="427" y="412" width="2" height="1" fill="#000" />
<rect x="428" y="412" width="1" height="10" fill="#000" />
<rect x="419" y="421" width="10" height="1" fill="#000" />
<rect x="626" y="414" width="9" height="1" fill="#000" />
<rect x="626" y="421" width="9" height="1" fill="#000" />
<rect x="623" y="407" width="3" height="17" fill="#000" />
<rect x="613" y="412" width="1" height="10" fill="#000" />
<rect x="613" y="412" width="3" height="1" fill="#000" />
<rect x="615" y="408" width="1" height="7" fill="#000" />
<rect x="615" y="414" width="6" height="1" fill="#000" />
<rect x="620" y="412" width="1" height="3" fill="#000" />
<rect x="620" y="412" width="3" height="1" fill="#000" />
<rect x="613" y="421" width="10" height="1" fill="#000" />
<rect x="433.9" y="409" width="79.7" height="7" fill="#000" />
<rect x="433.1" y="415" width="81.2" height="8" fill="#000" />
<rect x="433.9" y="416" width="0.9" height="5" fill="#fff" />
<rect x="439" y="422" width="1" height="1" fill="#fff" />
<rect x="442.02" y="422" width="1" height="1" fill="#fff" />
<rect x="445.04" y="422" width="1" height="1" fill="#fff" />
<rect x="448.06" y="422" width="1" height="1" fill="#fff" />
<rect x="451.08" y="422" width="1" height="1" fill="#fff" />
<rect x="454.1" y="422" width="1" height="1" fill="#fff" />
<rect x="457.12" y="422" width="1" height="1" fill="#fff" />
<rect x="460.14" y="422" width="1" height="1" fill="#fff" />
<rect x="463.16" y="422" width="1" height="1" fill="#fff" />
<rect x="466.18" y="422" width="1" height="1" fill="#fff" />
<rect x="469.2" y="422" width="1" height="1" fill="#fff" />
<rect x="472.22" y="422" width="1" height="1" fill="#fff" />
<rect x="475.24" y="422" width="1" height="1" fill="#fff" />
<rect x="478.26" y="422" width="1" height="1" fill="#fff" />
<rect x="481.28" y="422" width="1" height="1" fill="#fff" />
<rect x="484.3" y="422" width="1" height="1" fill="#fff" />
<rect x="487.32" y="422" width="1" height="1" fill="#fff" />
<rect x="490.34" y="422" width="1" height="1" fill="#fff" />
<rect x="493.36" y="422" width="1" height="1" fill="#fff" />
<rect x="496.38" y="422" width="1" height="1" fill="#fff" />
<rect x="499.4" y="422" width="1" height="1" fill="#fff" />
<rect x="502.42" y="422" width="1" height="1" fill="#fff" />
<rect x="505.44" y="422" width="1" height="1" fill="#fff" />
<rect x="508.46" y="422" width="1" height="1" fill="#fff" />
<rect x="511.48" y="422" width="1" height="1" fill="#fff" />
<rect x="435.7" y="416" width="4.2" height="5" fill="#fff" />
<rect x="437.8" y="410" width="1.1" height="4" fill="#fff" />
<rect x="441.74" y="416" width="4.2" height="5" fill="#fff" />
<rect x="443.84" y="410" width="1.1" height="4" fill="#fff" />
<rect x="447.78" y="416" width="4.2" height="5" fill="#fff" />
<rect x="449.88" y="410" width="1.1" height="4" fill="#fff" />
<rect x="453.82" y="416" width="4.2" height="5" fill="#fff" />
<rect x="455.92" y="410" width="1.1" height="4" fill="#fff" />
<rect x="459.86" y="416" width="4.2" height="5" fill="#fff" />
<rect x="461.96" y="410" width="1.1" height="4" fill="#fff" />
<rect x="465.9" y="416" width="4.2" height="5" fill="#fff" />
<rect x="468" y="410" width="1.1" height="8.5" fill="#fff" />
<rect x="471.94" y="416" width="4.2" height="5" fill="#fff" />
<rect x="474.04" y="410" width="1.1" height="4" fill="#fff" />
<rect x="477.98" y="416" width="4.2" height="5" fill="#fff" />
<rect x="480.08" y="410" width="1.1" height="4" fill="#fff" />
<rect x="484.02" y="416" width="4.2" height="5" fill="#fff" />
<rect x="486.12" y="410" width="1.1" height="4" fill="#fff" />
<rect x="490.06" y="416" width="4.2" height="5" fill="#fff" />
<rect x="492.16" y="410" width="1.1" height="4" fill="#fff" />
<rect x="496.1" y="416" width="4.2" height="5" fill="#fff" />
<rect x="498.2" y="410" width="1.1" height="4" fill="#fff" />
<rect x="502.14" y="416" width="4.2" height="5" fill="#fff" />
<rect x="504.24" y="410" width="1.1" height="4" fill="#fff" />
<rect x="508.18" y="416" width="4.2" height="5" fill="#fff" />
<rect x="510.28" y="410" width="1.1" height="4" fill="#fff" />
<rect x="530.7" y="409" width="77.4" height="7" fill="#000" />
<rect x="529.9" y="415" width="78.9" height="8" fill="#000" />
<rect x="606.7" y="416" width="1.5" height="5" fill="#fff" />
<rect x="534.2" y="422" width="1" height="1" fill="#fff" />
<rect x="537.12" y="422" width="1" height="1" fill="#fff" />
<rect x="540.04" y="422" width="1" height="1" fill="#fff" />
<rect x="542.96" y="422" width="1" height="1" fill="#fff" />
<rect x="545.88" y="422" width="1" height="1" fill="#fff" />
<rect x="548.8" y="422" width="1" height="1" fill="#fff" />
<rect x="551.72" y="422" width="1" height="1" fill="#fff" />
<rect x="554.64" y="422" width="1" height="1" fill="#fff" />
<rect x="557.56" y="422" width="1" height="1" fill="#fff" />
<rect x="560.48" y="422" width="1" height="1" fill="#fff" />
<rect x="563.4" y="422" width="1" height="1" fill="#fff" />
<rect x="566.32" y="422" width="1" height="1" fill="#fff" />
<rect x="569.24" y="422" width="1" height="1" fill="#fff" />
<rect x="572.16" y="422" width="1" height="1" fill="#fff" />
<rect x="575.08" y="422" width="1" height="1" fill="#fff" />
<rect x="578" y="422" width="1" height="1" fill="#fff" />
<rect x="580.92" y="422" width="1" height="1" fill="#fff" />
<rect x="583.84" y="422" width="1" height="1" fill="#fff" />
<rect x="586.76" y="422" width="1" height="1" fill="#fff" />
<rect x="589.68" y="422" width="1" height="1" fill="#fff" />
<rect x="592.6" y="422" width="1" height="1" fill="#fff" />
<rect x="595.52" y="422" width="1" height="1" fill="#fff" />
<rect x="598.44" y="422" width="1" height="1" fill="#fff" />
<rect x="601.36" y="422" width="1" height="1" fill="#fff" />
<rect x="604.28" y="422" width="1" height="1" fill="#fff" />
<rect x="530.9" y="416" width="3.9" height="5" fill="#fff" />
<rect x="532.85" y="410" width="1.1" height="4" fill="#fff" />
<rect x="536.74" y="416" width="3.9" height="5" fill="#fff" />
<rect x="538.69" y="410" width="1.1" height="4" fill="#fff" />
<rect x="542.58" y="416" width="3.9" height="5" fill="#fff" />
<rect x="544.53" y="410" width="1.1" height="4" fill="#fff" />
<rect x="548.42" y="416" width="3.9" height="5" fill="#fff" />
<rect x="550.37" y="410" width="1.1" height="8.5" fill="#fff" />
<rect x="554.26" y="416" width="3.9" height="5" fill="#fff" />
<rect x="556.21" y="410" width="1.1" height="4" fill="#fff" />
<rect x="560.1" y="416" width="3.9" height="5" fill="#fff" />
<rect x="562.05" y="410" width="1.1" height="8.5" fill="#fff" />
<rect x="565.94" y="416" width="3.9" height="5" fill="#fff" />
<rect x="567.89" y="410" width="1.1" height="4" fill="#fff" />
<rect x="571.78" y="416" width="3.9" height="5" fill="#fff" />
<rect x="573.73" y="410" width="1.1" height="4" fill="#fff" />
<rect x="577.62" y="416" width="3.9" height="5" fill="#fff" />
<rect x="579.57" y="410" width="1.1" height="4" fill="#fff" />
<rect x="583.46" y="416" width="3.9" height="5" fill="#fff" />
<rect x="585.41" y="410" width="1.1" height="4" fill="#fff" />
<rect x="589.3" y="416" width="3.9" height="5" fill="#fff" />
<rect x="591.25" y="410" width="1.1" height="4" fill="#fff" />
<rect x="595.14" y="416" width="3.9" height="5" fill="#fff" />
<rect x="597.09" y="410" width="1.1" height="4" fill="#fff" />
<rect x="600.98" y="416" width="3.9" height="5" fill="#fff" />
<rect x="602.93" y="410" width="1.1" height="4" fill="#fff" />
<rect x="407.5" y="434.5" width="226" height="18" fill="#fff" stroke="#000" stroke-width="1"/>
<rect x="407" y="441" width="7" height="1" fill="#000" />
<rect x="407" y="448" width="7" height="1" fill="#000" />
<rect x="414" y="434" width="4" height="17" fill="#000" />
<rect x="415.4" y="449" width="1" height="1" fill="#fff" />
<rect x="418" y="438" width="3" height="2" fill="#000" />
<rect x="420" y="440" width="1" height="2" fill="#000" />
<rect x="420" y="441" width="6" height="1" fill="#000" />
<rect x="425" y="435" width="1" height="7" fill="#000" />
<rect x="426" y="439" width="2" height="1" fill="#000" />
<rect x="427" y="439" width="1" height="10" fill="#000" />
<rect x="418" y="448" width="10" height="1" fill="#000" />
<rect x="625" y="441" width="9" height="1" fill="#000" />
<rect x="625" y="448" width="9" height="1" fill="#000" />
<rect x="622" y="434" width="3" height="17" fill="#000" />
<rect x="612" y="439" width="1" height="10" fill="#000" />
<rect x="612" y="439" width="3" height="1" fill="#000" />
<rect x="614" y="435" width="1" height="7" fill="#000" />
<rect x="614" y="441" width="6" height="1" fill="#000" />
<rect x="619" y="439" width="1" height="3" fill="#000" />
<rect x="619" y="439" width="3" height="1" fill="#000" />
<rect x="612" y="448" width="10" height="1" fill="#000" />
<rect x="432.9" y="436" width="79.7" height="7" fill="#000" />
<rect x="432.1" y="442" width="81.2" height="8" fill="#000" />
<rect x="432.9" y="443" width="0.9" height="5" fill="#fff" />
<rect x="438" y="449" width="1" height="1" fill="#fff" />
<rect x="441.02" y="449" width="1" height="1" fill="#fff" />
<rect x="444.04" y="449" width="1" height="1" fill="#fff" />
<rect x="447.06" y="449" width="1" height="1" fill="#fff" />
<rect x="450.08" y="449" width="1" height="1" fill="#fff" />
<rect x="453.1" y="449" width="1" height="1" fill="#fff" />
<rect x="456.12" y="449" width="1" height="1" fill="#fff" />
<rect x="459.14" y="449" width="1" height="1" fill="#fff" />
<rect x="462.16" y="449" width="1" height="1" fill="#fff" />
<rect x="465.18" y="449" width="1" height="1" fill="#fff" />
<rect x="468.2" y="449" width="1" height="1" fill="#fff" />
<rect x="471.22" y="449" width="1" height="1" fill="#fff" />
<rect x="474.24" y="449" width="1" height="1" fill="#fff" />
<rect x="477.26" y="449" width="1" height="1" fill="#fff" />
<rect x="480.28" y="449" width="1" height="1" fill="#fff" />
<rect x="483.3" y="449" width="1" height="1" fill="#fff" />
<rect x="486.32" y="449" width="1" height="1" fill="#fff" />
<rect x="489.34" y="449" width="1" height="1" fill="#fff" />
<rect x="492.36" y="449" width="1" height="1" fill="#fff" />
<rect x="495.38" y="449" width="1" height="1" fill="#fff" />
<rect x="498.4" y="449" width="1" height="1" fill="#fff" />
<rect x="501.42" y="449" width="1" height="1" fill="#fff" />
<rect x="504.44" y="449" width="1" height="1" fill="#fff" />
<rect x="507.46" y="449" width="1" height="1" fill="#fff" />
<rect x="510.48" y="449" width="1" height="1" fill="#fff" />
<rect x="434.7" y="443" width="4.2" height="5" fill="#fff" />
<rect x="436.8" y="437" width="1.1" height="4" fill="#fff" />
<rect x="440.74" y="443" width="4.2" height="5" fill="#fff" />
<rect x="442.84" y="437" width="1.1" height="4" fill="#fff" />
<rect x="446.78" y="443" width="4.2" height="5" fill="#fff" />
<rect x="448.88" y="437" width="1.1" height="4" fill="#fff" />
<rect x="452.82" y="443" width="4.2" height="5" fill="#fff" />
<rect x="454.92" y="437" width="1.1" height="4" fill="#fff" />
<rect x="458.86" y="443" width="4.2" height="5" fill="#fff" />
<rect x="460.96" y="437" width="1.1" height="4" fill="#fff" />
<rect x="464.9" y="443" width="4.2" height="5" fill="#fff" />
<rect x="467" y="437" width="1.1" height="8.5" fill="#fff" />
<rect x="470.94" y="443" width="4.2" height="5" fill="#fff" />
<rect x="473.04" y="437" width="1.1" height="4" fill="#fff" />
<rect x="476.98" y="443" width="4.2" height="5" fill="#fff" />
<rect x="479.08" y="437" width="1.1" height="4" fill="#fff" />
<rect x="483.02" y="443" width="4.2" height="5" fill="#fff" />
<rect x="485.12" y="437" width="1.1" height="4" fill="#fff" />
<rect x="489.06" y="443" width="4.2" height="5" fill="#fff" />
<rect x="491.16" y="437" width="1.1" height="4" fill="#fff" />
<rect x="495.1" y="443" width="4.2" height="5" fill="#fff" />
<rect x="497.2" y="437" width="1.1" height="4" fill="#fff" />
<rect x="501.14" y="443" width="4.2" height="5" fill="#fff" />
<rect x="503.24" y="437" width="1.1" height="4" fill="#fff" />
<rect x="507.18" y="443" width="4.2" height="5" fill="#fff" />
<rect x="509.28" y="437" width="1.1" height="4" fill="#fff" />
<rect x="529.7" y="436" width="77.4" height="7" fill="#000" />
<rect x="528.9" y="442" width="78.9" height="8" fill="#000" />
<rect x="605.7" y="443" width="1.5" height="5" fill="#fff" />
<rect x="533.2" y="449" width="1" height="1" fill="#fff" />
<rect x="536.12" y="449" width="1" height="1" fill="#fff" />
<rect x="539.04" y="449" width="1" height="1" fill="#fff" />
<rect x="541.96" y="449" width="1" height="1" fill="#fff" />
<rect x="544.88" y="449" width="1" height="1" fill="#fff" />
<rect x="547.8" y="449" width="1" height="1" fill="#fff" />
<rect x="550.72" y="449" width="1" height="1" fill="#fff" />
<rect x="553.64" y="449" width="1" height="1" fill="#fff" />
<rect x="556.56" y="449" width="1" height="1" fill="#fff" />
<rect x="559.48" y="449" width="1" height="1" fill="#fff" />
<rect x="562.4" y="449" width="1" height="1" fill="#fff" />
<rect x="565.32" y="449" width="1" height="1" fill="#fff" />
<rect x="568.24" y="449" width="1" height="1" fill="#fff" />
<rect x="571.16" y="449" width="1" height="1" fill="#fff" />
<rect x="574.08" y="449" width="1" height="1" fill="#fff" />
<rect x="577" y="449" width="1" height="1" fill="#fff" />
<rect x="579.92" y="449" width="1" height="1" fill="#fff" />
<rect x="582.84" y="449" width="1" height="1" fill="#fff" />
<rect x="585.76" y="449" width="1" height="1" fill="#fff" />
<rect x="588.68" y="449" width="1" height="1" fill="#fff" />
<rect x="591.6" y="449" width="1" height="1" fill="#fff" />
<rect x="594.52" y="449" width="1" height="1" fill="#fff" />
<rect x="597.44" y="449" width="1" height="1" fill="#fff" />
<rect x="600.36" y="449" width="1" height="1" fill="#fff" />
<rect x="603.28" y="449" width="1" height="1" fill="#fff" />
<rect x="529.9" y="443" width="3.9" height="5" fill="#fff" />
<rect x="531.85" y="437" width="1.1" height="4" fill="#fff" />
<rect x="535.74" y="443" width="3.9" height="5" fill="#fff" />
<rect x="537.69" y="437" width="1.1" height="4" fill="#fff" />
<rect x="541.58" y="443" width="3.9" height="5" fill="#fff" />
<rect x="543.53" y="437" width="1.1" height="4" fill="#fff" />
<rect x="547.42" y="443" width="3.9" height="5" fill="#fff" />
<rect x="549.37" y="437" width="1.1" height="8.5" fill="#fff" />
<rect x="553.26" y="443" width="3.9" height="5" fill="#fff" />
<rect x="555.21" y="437" width="1.1" height="4" fill="#fff" />
<rect x="559.1" y="443" width="3.9" height="5" fill="#fff" />
<rect x="561.05" y="437" width="1.1" height="8.5" fill="#fff" />
<rect x="564.94" y="443" width="3.9" height="5" fill="#fff" />
<rect x="566.89" y="437" width="1.1" height="4" fill="#fff" />
<rect x="570.78" y="443" width="3.9" height="5" fill="#fff" />
<rect x="572.73" y="437" width="1.1" height="4" fill="#fff" />
<rect x="576.62" y="443" width="3.9" height="5" fill="#fff" />
<rect x="578.57" y="437" width="1.1" height="4" fill="#fff" />
<rect x="582.46" y="443" width="3.9" height="5" fill="#fff" />
<rect x="584.41" y="437" width="1.1" height="4" fill="#fff" />
<rect x="588.3" y="443" width="3.9" height="5" fill="#fff" />
<rect x="590.25" y="437" width="1.1" height="4" fill="#fff" />
<rect x="594.14" y="443" width="3.9" height="5" fill="#fff" />
<rect x="596.09" y="437" width="1.1" height="4" fill="#fff" />
<rect x="599.98" y="443" width="3.9" height="5" fill="#fff" />
<rect x="601.93" y="437" width="1.1" height="4" fill="#fff" />
<rect x="407.5" y="454.5" width="226" height="18" fill="#fff" stroke="#000" stroke-width="1"/>
<rect x="407" y="461" width="7" height="1" fill="#000" />
<rect x="407" y="468" width="7" height="1" fill="#000" />
<rect x="414" y="454" width="4" height="17" fill="#000" />
<rect x="415.4" y="469" width="1" height="1" fill="#fff" />
<rect x="418" y="458" width="3" height="2" fill="#000" />
<rect x="420" y="460" width="1" height="2" fill="#000" />
<rect x="420" y="461" width="6" height="1" fill="#000" />
<rect x="425" y="455" width="1" height="7" fill="#000" />
<rect x="426" y="459" width="2" height="1" fill="#000" />
<rect x="427" y="459" width="1" height="10" fill="#000" />
<rect x="418" y="468" width="10" height="1" fill="#000" />
<rect x="625" y="461" width="9" height="1" fill="#000" />
<rect x="625" y="468" width="9" height="1" fill="#000" />
<rect x="622" y="454" width="3" height="17" fill="#000" />
<rect x="612" y="459" width="1" height="10" fill="#000" />
<rect x="612" y="459" width="3" height="1" fill="#000" />
<rect x="614" y="455" width="1" height="7" fill="#000" />
<rect x="614" y="461" width="6" height="1" fill="#000" />
<rect x="619" y="459" width="1" height="3" fill="#000" />
<rect x="619" y="459" width="3" height="1" fill="#000" />
<rect x="612" y="468" width="10" height="1" fill="#000" />
<rect x="432.9" y="456" width="79.7" height="7" fill="#000" />
<rect x="432.1" y="462" width="81.2" height="8" fill="#000" />
<rect x="432.9" y="463" width="0.9" height="5" fill="#fff" />
<rect x="438" y="469" width="1" height="1" fill="#fff" />
<rect x="441.02" y="469" width="1" height="1" fill="#fff" />
<rect x="444.04" y="469" width="1" height="1" fill="#fff" />
<rect x="447.06" y="469" width="1" height="1" fill="#fff" />
<rect x="450.08" y="469" width="1" height="1" fill="#fff" />
<rect x="453.1" y="469" width="1" height="1" fill="#fff" />
<rect x="456.12" y="469" width="1" height="1" fill="#fff" />
<rect x="459.14" y="469" width="1" height="1" fill="#fff" />
<rect x="462.16" y="469" width="1" height="1" fill="#fff" />
<rect x="465.18" y="469" width="1" height="1" fill="#fff" />
<rect x="468.2" y="469" width="1" height="1" fill="#fff" />
<rect x="471.22" y="469" width="1" height="1" fill="#fff" />
<rect x="474.24" y="469" width="1" height="1" fill="#fff" />
<rect x="477.26" y="469" width="1" height="1" fill="#fff" />
<rect x="480.28" y="469" width="1" height="1" fill="#fff" />
<rect x="483.3" y="469" width="1" height="1" fill="#fff" />
<rect x="486.32" y="469" width="1" height="1" fill="#fff" />
<rect x="489.34" y="469" width="1" height="1" fill="#fff" />
<rect x="492.36" y="469" width="1" height="1" fill="#fff" />
<rect x="495.38" y="469" width="1" height="1" fill="#fff" />
<rect x="498.4" y="469" width="1" height="1" fill="#fff" />
<rect x="501.42" y="469" width="1" height="1" fill="#fff" />
<rect x="504.44" y="469" width="1" height="1" fill="#fff" />
<rect x="507.46" y="469" width="1" height="1" fill="#fff" />
<rect x="510.48" y="469" width="1" height="1" fill="#fff" />
<rect x="434.7" y="463" width="4.2" height="5" fill="#fff" />
<rect x="436.8" y="457" width="1.1" height="4" fill="#fff" />
<rect x="440.74" y="463" width="4.2" height="5" fill="#fff" />
<rect x="442.84" y="457" width="1.1" height="4" fill="#fff" />
<rect x="446.78" y="463" width="4.2" height="5" fill="#fff" />
<rect x="448.88" y="457" width="1.1" height="4" fill="#fff" />
<rect x="452.82" y="463" width="4.2" height="5" fill="#fff" />
<rect x="454.92" y="457" width="1.1" height="4" fill="#fff" />
<rect x="458.86" y="463" width="4.2" height="5" fill="#fff" />
<rect x="460.96" y="457" width="1.1" height="4" fill="#fff" />
<rect x="464.9" y="463" width="4.2" height="5" fill="#fff" />
<rect x="467" y="457" width="1.1" height="8.5" fill="#fff" />
<rect x="470.94" y="463" width="4.2" height="5" fill="#fff" />
<rect x="473.04" y="457" width="1.1" height="4" fill="#fff" />
<rect x="476.98" y="463" width="4.2" height="5" fill="#fff" />
<rect x="479.08" y="457" width="1.1" height="4" fill="#fff" />
<rect x="483.02" y="463" width="4.2" height="5" fill="#fff" />
<rect x="485.12" y="457" width="1.1" height="4" fill="#fff" />
<rect x="489.06" y="463" width="4.2" height="5" fill="#fff" />
<rect x="491.16" y="457" width="1.1" height="4" fill="#fff" />
<rect x="495.1" y="463" width="4.2" height="5" fill="#fff" />
<rect x="497.2" y="457" width="1.1" height="4" fill="#fff" />
<rect x="501.14" y="463" width="4.2" height="5" fill="#fff" />
<rect x="503.24" y="457" width="1.1" height="4" fill="#fff" />
<rect x="507.18" y="463" width="4.2" height="5" fill="#fff" />
<rect x="509.28" y="457" width="1.1" height="4" fill="#fff" />
<rect x="529.7" y="456" width="77.4" height="7" fill="#000" />
<rect x="528.9" y="462" width="78.9" height="8" fill="#000" />
<rect x="605.7" y="463" width="1.5" height="5" fill="#fff" />
<rect x="533.2" y="469" width="1" height="1" fill="#fff" />
<rect x="536.12" y="469" width="1" height="1" fill="#fff" />
<rect x="539.04" y="469" width="1" height="1" fill="#fff" />
<rect x="541.96" y="469" width="1" height="1" fill="#fff" />
<rect x="544.88" y="469" width="1" height="1" fill="#fff" />
<rect x="547.8" y="469" width="1" height="1" fill="#fff" />
<rect x="550.72" y="469" width="1" height="1" fill="#fff" />
<rect x="553.64" y="469" width="1" height="1" fill="#fff" />
<rect x="556.56" y="469" width="1" height="1" fill="#fff" />
<rect x="559.48" y="469" width="1" height="1" fill="#fff" />
<rect x="562.4" y="469" width="1" height="1" fill="#fff" />
<rect x="565.32" y="469" width="1" height="1" fill="#fff" />
<rect x="568.24" y="469" width="1" height="1" fill="#fff" />
<rect x="571.16" y="469" width="1" height="1" fill="#fff" />
<rect x="574.08" y="469" width="1" height="1" fill="#fff" />
<rect x="577" y="469" width="1" height="1" fill="#fff" />
<rect x="579.92" y="469" width="1" height="1" fill="#fff" />
<rect x="582.84" y="469" width="1" height="1" fill="#fff" />
<rect x="585.76" y="469" width="1" height="1" fill="#fff" />
<rect x="588.68" y="469" width="1" height="1" fill="#fff" />
<rect x="591.6" y="469" width="1" height="1" fill="#fff" />
<rect x="594.52" y="469" width="1" height="1" fill="#fff" />
<rect x="597.44" y="469" width="1" height="1" fill="#fff" />
<rect x="600.36" y="469" width="1" height="1" fill="#fff" />
<rect x="603.28" y="469" width="1" height="1" fill="#fff" />
<rect x="529.9" y="463" width="3.9" height="5" fill="#fff" />
<rect x="531.85" y="457" width="1.1" height="4" fill="#fff" />
<rect x="535.74" y="463" width="3.9" height="5" fill="#fff" />
<rect x="537.69" y="457" width="1.1" height="4" fill="#fff" />
<rect x="541.58" y="463" width="3.9" height="5" fill="#fff" />
<rect x="543.53" y="457" width="1.1" height="4" fill="#fff" />
<rect x="547.42" y="463" width="3.9" height="5" fill="#fff" />
<rect x="549.37" y="457" width="1.1" height="8.5" fill="#fff" />
<rect x="553.26" y="463" width="3.9" height="5" fill="#fff" />
<rect x="555.21" y="457" width="1.1" height="4" fill="#fff" />
<rect x="559.1" y="463" width="3.9" height="5" fill="#fff" />
<rect x="561.05" y="457" width="1.1" height="8.5" fill="#fff" />
<rect x="564.94" y="463" width="3.9" height="5" fill="#fff" />
<rect x="566.89" y="457" width="1.1" height="4" fill="#fff" />
<rect x="570.78" y="463" width="3.9" height="5" fill="#fff" />
<rect x="572.73" y="457" width="1.1" height="4" fill="#fff" />
<rect x="576.62" y="463" width="3.9" height="5" fill="#fff" />
<rect x="578.57" y="457" width="1.1" height="4" fill="#fff" />
<rect x="582.46" y="463" width="3.9" height="5" fill="#fff" />
<rect x="584.41" y="457" width="1.1" height="4" fill="#fff" />
<rect x="588.3" y="463" width="3.9" height="5" fill="#fff" />
<rect x="590.25" y="457" width="1.1" height="4" fill="#fff" />
<rect x="594.14" y="463" width="3.9" height="5" fill="#fff" />
<rect x="596.09" y="457" width="1.1" height="4" fill="#fff" />
<rect x="599.98" y="463" width="3.9" height="5" fill="#fff" />
<rect x="601.93" y="457" width="1.1" height="4" fill="#fff" />
<rect x="407.5" y="474.5" width="226" height="18" fill="#fff" stroke="#000" stroke-width="1"/>
<rect x="407" y="481" width="7" height="1" fill="#000" />
<rect x="407" y="488" width="7" height="1" fill="#000" />
<rect x="414" y="474" width="4" height="17" fill="#000" />
<rect x="415.4" y="489" width="1" height="1" fill="#fff" />
<rect x="418" y="478" width="3" height="2" fill="#000" />
<rect x="420" y="480" width="1" height="2" fill="#000" />
<rect x="420" y="481" width="6" height="1" fill="#000" />
<rect x="425" y="475" width="1" height="7" fill="#000" />
<rect x="426" y="479" width="2" height="1" fill="#000" />
<rect x="427" y="479" width="1" height="10" fill="#000" />
<rect x="418" y="488" width="10" height="1" fill="#000" />
<rect x="625" y="481" width="9" height="1" fill="#000" />
<rect x="625" y="488" width="9" height="1" fill="#000" />
<rect x="622" y="474" width="3" height="17" fill="#000" />
<rect x="612" y="479" width="1" height="10" fill="#000" />
<rect x="612" y="479" width="3" height="1" fill="#000" />
<rect x="614" y="475" width="1" height="7" fill="#000" />
<rect x="614" y="481" width="6" height="1" fill="#000" />
<rect x="619" y="479" width="1" height="3" fill="#000" />
<rect x="619" y="479" width="3" height="1" fill="#000" />
<rect x="612" y="488" width="10" height="1" fill="#000" />
<rect x="432.9" y="476" width="79.7" height="7" fill="#000" />
<rect x="432.1" y="482" width="81.2" height="8" fill="#000" />
<rect x="432.9" y="483" width="0.9" height="5" fill="#fff" />
<rect x="438" y="489" width="1" height="1" fill="#fff" />
<rect x="441.02" y="489" width="1" height="1" fill="#fff" />
<rect x="444.04" y="489" width="1" height="1" fill="#fff" />
<rect x="447.06" y="489" width="1" height="1" fill="#fff" />
<rect x="450.08" y="489" width="1" height="1" fill="#fff" />
<rect x="453.1" y="489" width="1" height="1" fill="#fff" />
<rect x="456.12" y="489" width="1" height="1" fill="#fff" />
<rect x="459.14" y="489" width="1" height="1" fill="#fff" />
<rect x="462.16" y="489" width="1" height="1" fill="#fff" />
<rect x="465.18" y="489" width="1" height="1" fill="#fff" />
<rect x="468.2" y="489" width="1" height="1" fill="#fff" />
<rect x="471.22" y="489" width="1" height="1" fill="#fff" />
<rect x="474.24" y="489" width="1" height="1" fill="#fff" />
<rect x="477.26" y="489" width="1" height="1" fill="#fff" />
<rect x="480.28" y="489" width="1" height="1" fill="#fff" />
<rect x="483.3" y="489" width="1" height="1" fill="#fff" />
<rect x="486.32" y="489" width="1" height="1" fill="#fff" />
<rect x="489.34" y="489" width="1" height="1" fill="#fff" />
<rect x="492.36" y="489" width="1" height="1" fill="#fff" />
<rect x="495.38" y="489" width="1" height="1" fill="#fff" />
<rect x="498.4" y="489" width="1" height="1" fill="#fff" />
<rect x="501.42" y="489" width="1" height="1" fill="#fff" />
<rect x="504.44" y="489" width="1" height="1" fill="#fff" />
<rect x="507.46" y="489" width="1" height="1" fill="#fff" />
<rect x="510.48" y="489" width="1" height="1" fill="#fff" />
<rect x="434.7" y="483" width="4.2" height="5" fill="#fff" />
<rect x="436.8" y="477" width="1.1" height="4" fill="#fff" />
<rect x="440.74" y="483" width="4.2" height="5" fill="#fff" />
<rect x="442.84" y="477" width="1.1" height="4" fill="#fff" />
<rect x="446.78" y="483" width="4.2" height="5" fill="#fff" />
<rect x="448.88" y="477" width="1.1" height="4" fill="#fff" />
<rect x="452.82" y="483" width="4.2" height="5" fill="#fff" />
<rect x="454.92" y="477" width="1.1" height="4" fill="#fff" />
<rect x="458.86" y="483" width="4.2" height="5" fill="#fff" />
<rect x="460.96" y="477" width="1.1" height="4" fill="#fff" />
<rect x="464.9" y="483" width="4.2" height="5" fill="#fff" />
<rect x="467" y="477" width="1.1" height="8.5" fill="#fff" />
<rect x="470.94" y="483" width="4.2" height="5" fill="#fff" />
<rect x="473.04" y="477" width="1.1" height="4" fill="#fff" />
<rect x="476.98" y="483" width="4.2" height="5" fill="#fff" />
<rect x="479.08" y="477" width="1.1" height="4" fill="#fff" />
<rect x="483.02" y="483" width="4.2" height="5" fill="#fff" />
<rect x="485.12" y="477" width="1.1" height="4" fill="#fff" />
<rect x="489.06" y="483" width="4.2" height="5" fill="#fff" />
<rect x="491.16" y="477" width="1.1" height="4" fill="#fff" />
<rect x="495.1" y="483" width="4.2" height="5" fill="#fff" />
<rect x="497.2" y="477" width="1.1" height="4" fill="#fff" />
<rect x="501.14" y="483" width="4.2" height="5" fill="#fff" />
<rect x="503.24" y="477" width="1.1" height="4" fill="#fff" />
<rect x="507.18" y="483" width="4.2" height="5" fill="#fff" />
<rect x="509.28" y="477" width="1.1" height="4" fill="#fff" />
<rect x="529.7" y="476" width="77.4" height="7" fill="#000" />
<rect x="528.9" y="482" width="78.9" height="8" fill="#000" />
<rect x="605.7" y="483" width="1.5" height="5" fill="#fff" />
<rect x="533.2" y="489" width="1" height="1" fill="#fff" />
<rect x="536.12" y="489" width="1" height="1" fill="#fff" />
<rect x="539.04" y="489" width="1" height="1" fill="#fff" />
<rect x="541.96" y="489" width="1" height="1" fill="#fff" />
<rect x="544.88" y="489" width="1" height="1" fill="#fff" />
<rect x="547.8" y="489" width="1" height="1" fill="#fff" />
<rect x="550.72" y="489" width="1" height="1" fill="#fff" />
<rect x="553.64" y="489" width="1" height="1" fill="#fff" />
<rect x="556.56" y="489" width="1" height="1" fill="#fff" />
<rect x="559.48" y="489" width="1" height="1" fill="#fff" />
<rect x="562.4" y="489" width="1" height="1" fill="#fff" />
<rect x="565.32" y="489" width="1" height="1" fill="#fff" />
<rect x="568.24" y="489" width="1" height="1" fill="#fff" />
<rect x="571.16" y="489" width="1" height="1" fill="#fff" />
<rect x="574.08" y="489" width="1" height="1" fill="#fff" />
<rect x="577" y="489" width="1" height="1" fill="#fff" />
<rect x="579.92" y="489" width="1" height="1" fill="#fff" />
<rect x="582.84" y="489" width="1" height="1" fill="#fff" />
<rect x="585.76" y="489" width="1" height="1" fill="#fff" />
<rect x="588.68" y="489" width="1" height="1" fill="#fff" />
<rect x="591.6" y="489" width="1" height="1" fill="#fff" />
<rect x="594.52" y="489" width="1" height="1" fill="#fff" />
<rect x="597.44" y="489" width="1" height="1" fill="#fff" />
<rect x="600.36" y="489" width="1" height="1" fill="#fff" />
<rect x="603.28" y="489" width="1" height="1" fill="#fff" />
<rect x="529.9" y="483" width="3.9" height="5" fill="#fff" />
<rect x="531.85" y="477" width="1.1" height="4" fill="#fff" />
<rect x="535.74" y="483" width="3.9" height="5" fill="#fff" />
<rect x="537.69" y="477" width="1.1" height="4" fill="#fff" />
<rect x="541.58" y="483" width="3.9" height="5" fill="#fff" />
<rect x="543.53" y="477" width="1.1" height="4" fill="#fff" />
<rect x="547.42" y="483" width="3.9" height="5" fill="#fff" />
<rect x="549.37" y="477" width="1.1" height="8.5" fill="#fff" />
<rect x="553.26" y="483" width="3.9" height="5" fill="#fff" />
<rect x="555.21" y="477" width="1.1" height="4" fill="#fff" />
<rect x="559.1" y="483" width="3.9" height="5" fill="#fff" />
<rect x="561.05" y="477" width="1.1" height="8.5" fill="#fff" />
<rect x="564.94" y="483" width="3.9" height="5" fill="#fff" />
<rect x="566.89" y="477" width="1.1" height="4" fill="#fff" />
<rect x="570.78" y="483" width="3.9" height="5" fill="#fff" />
<rect x="572.73" y="477" width="1.1" height="4" fill="#fff" />
<rect x="576.62" y="483" width="3.9" height="5" fill="#fff" />
<rect x="578.57" y="477" width="1.1" height="4" fill="#fff" />
<rect x="582.46" y="483" width="3.9" height="5" fill="#fff" />
<rect x="584.41" y="477" width="1.1" height="4" fill="#fff" />
<rect x="588.3" y="483" width="3.9" height="5" fill="#fff" />
<rect x="590.25" y="477" width="1.1" height="4" fill="#fff" />
<rect x="594.14" y="483" width="3.9" height="5" fill="#fff" />
<rect x="596.09" y="477" width="1.1" height="4" fill="#fff" />
<rect x="599.98" y="483" width="3.9" height="5" fill="#fff" />
<rect x="601.93" y="477" width="1.1" height="4" fill="#fff" />
<rect x="407.5" y="494.5" width="226" height="18" fill="#fff" stroke="#000" stroke-width="1"/>
<rect x="407" y="501" width="7" height="1" fill="#000" />
<rect x="407" y="508" width="7" height="1" fill="#000" />
<rect x="414" y="494" width="4" height="17" fill="#000" />
<rect x="415.4" y="509" width="1" height="1" fill="#fff" />
<rect x="418" y="498" width="3" height="2" fill="#000" />
<rect x="420" y="500" width="1" height="2" fill="#000" />
<rect x="420" y="501" width="6" height="1" fill="#000" />
<rect x="425" y="495" width="1" height="7" fill="#000" />
<rect x="426" y="499" width="2" height="1" fill="#000" />
<rect x="427" y="499" width="1" height="10" fill="#000" />
<rect x="418" y="508" width="10" height="1" fill="#000" />
<rect x="625" y="501" width="9" height="1" fill="#000" />
<rect x="625" y="508" width="9" height="1" fill="#000" />
<rect x="622" y="494" width="3" height="17" fill="#000" />
<rect x="612" y="499" width="1" height="10" fill="#000" />
<rect x="612" y="499" width="3" height="1" fill="#000" />
<rect x="614" y="495" width="1" height="7" fill="#000" />
<rect x="614" y="501" width="6" height="1" fill="#000" />
<rect x="619" y="499" width="1" height="3" fill="#000" />
<rect x="619" y="499" width="3" height="1" fill="#000" />
<rect x="612" y="508" width="10" height="1" fill="#000" />
<rect x="432.9" y="496" width="79.7" height="7" fill="#000" />
<rect x="432.1" y="502" width="81.2" height="8" fill="#000" />
<rect x="432.9" y="503" width="0.9" height="5" fill="#fff" />
<rect x="438" y="509" width="1" height="1" fill="#fff" />
<rect x="441.02" y="509" width="1" height="1" fill="#fff" />
<rect x="444.04" y="509" width="1" height="1" fill="#fff" />
<rect x="447.06" y="509" width="1" height="1" fill="#fff" />
<rect x="450.08" y="509" width="1" height="1" fill="#fff" />
<rect x="453.1" y="509" width="1" height="1" fill="#fff" />
<rect x="456.12" y="509" width="1" height="1" fill="#fff" />
<rect x="459.14" y="509" width="1" height="1" fill="#fff" />
<rect x="462.16" y="509" width="1" height="1" fill="#fff" />
<rect x="465.18" y="509" width="1" height="1" fill="#fff" />
<rect x="468.2" y="509" width="1" height="1" fill="#fff" />
<rect x="471.22" y="509" width="1" height="1" fill="#fff" />
<rect x="474.24" y="509" width="1" height="1" fill="#fff" />
<rect x="477.26" y="509" width="1" height="1" fill="#fff" />
<rect x="480.28" y="509" width="1" height="1" fill="#fff" />
<rect x="483.3" y="509" width="1" height="1" fill="#fff" />
<rect x="486.32" y="509" width="1" height="1" fill="#fff" />
<rect x="489.34" y="509" width="1" height="1" fill="#fff" />
<rect x="492.36" y="509" width="1" height="1" fill="#fff" />
<rect x="495.38" y="509" width="1" height="1" fill="#fff" />
<rect x="498.4" y="509" width="1" height="1" fill="#fff" />
<rect x="501.42" y="509" width="1" height="1" fill="#fff" />
<rect x="504.44" y="509" width="1" height="1" fill="#fff" />
<rect x="507.46" y="509" width="1" height="1" fill="#fff" />
<rect x="510.48" y="509" width="1" height="1" fill="#fff" />
<rect x="434.7" y="503" width="4.2" height="5" fill="#fff" />
<rect x="436.8" y="497" width="1.1" height="4" fill="#fff" />
<rect x="440.74" y="503" width="4.2" height="5" fill="#fff" />
<rect x="442.84" y="497" width="1.1" height="4" fill="#fff" />
<rect x="446.78" y="503" width="4.2" height="5" fill="#fff" />
<rect x="448.88" y="497" width="1.1" height="4" fill="#fff" />
<rect x="452.82" y="503" width="4.2" height="5" fill="#fff" />
<rect x="454.92" y="497" width="1.1" height="4" fill="#fff" />
<rect x="458.86" y="503" width="4.2" height="5" fill="#fff" />
<rect x="460.96" y="497" width="1.1" height="4" fill="#fff" />
<rect x="464.9" y="503" width="4.2" height="5" fill="#fff" />
<rect x="467" y="497" width="1.1" height="8.5" fill="#fff" />
<rect x="470.94" y="503" width="4.2" height="5" fill="#fff" />
<rect x="473.04" y="497" width="1.1" height="4" fill="#fff" />
<rect x="476.98" y="503" width="4.2" height="5" fill="#fff" />
<rect x="479.08" y="497" width="1.1" height="4" fill="#fff" />
<rect x="483.02" y="503" width="4.2" height="5" fill="#fff" />
<rect x="485.12" y="497" width="1.1" height="4" fill="#fff" />
<rect x="489.06" y="503" width="4.2" height="5" fill="#fff" />
<rect x="491.16" y="497" width="1.1" height="4" fill="#fff" />
<rect x="495.1" y="503" width="4.2" height="5" fill="#fff" />
<rect x="497.2" y="497" width="1.1" height="4" fill="#fff" />
<rect x="501.14" y="503" width="4.2" height="5" fill="#fff" />
<rect x="503.24" y="497" width="1.1" height="4" fill="#fff" />
<rect x="507.18" y="503" width="4.2" height="5" fill="#fff" />
<rect x="509.28" y="497" width="1.1" height="4" fill="#fff" />
<rect x="529.7" y="496" width="77.4" height="7" fill="#000" />
<rect x="528.9" y="502" width="78.9" height="8" fill="#000" />
<rect x="605.7" y="503" width="1.5" height="5" fill="#fff" />
<rect x="533.2" y="509" width="1" height="1" fill="#fff" />
<rect x="536.12" y="509" width="1" height="1" fill="#fff" />
<rect x="539.04" y="509" width="1" height="1" fill="#fff" />
<rect x="541.96" y="509" width="1" height="1" fill="#fff" />
<rect x="544.88" y="509" width="1" height="1" fill="#fff" />
<rect x="547.8" y="509" width="1" height="1" fill="#fff" />
<rect x="550.72" y="509" width="1" height="1" fill="#fff" />
<rect x="553.64" y="509" width="1" height="1" fill="#fff" />
<rect x="556.56" y="509" width="1" height="1" fill="#fff" />
<rect x="559.48" y="509" width="1" height="1" fill="#fff" />
<rect x="562.4" y="509" width="1" height="1" fill="#fff" />
<rect x="565.32" y="509" width="1" height="1" fill="#fff" />
<rect x="568.24" y="509" width="1" height="1" fill="#fff" />
<rect x="571.16" y="509" width="1" height="1" fill="#fff" />
<rect x="574.08" y="509" width="1" height="1" fill="#fff" />
<rect x="577" y="509" width="1" height="1" fill="#fff" />
<rect x="579.92" y="509" width="1" height="1" fill="#fff" />
<rect x="582.84" y="509" width="1" height="1" fill="#fff" />
<rect x="585.76" y="509" width="1" height="1" fill="#fff" />
<rect x="588.68" y="509" width="1" height="1" fill="#fff" />
<rect x="591.6" y="509" width="1" height="1" fill="#fff" />
<rect x="594.52" y="509" width="1" height="1" fill="#fff" />
<rect x="597.44" y="509" width="1" height="1" fill="#fff" />
<rect x="600.36" y="509" width="1" height="1" fill="#fff" />
<rect x="603.28" y="509" width="1" height="1" fill="#fff" />
<rect x="529.9" y="503" width="3.9" height="5" fill="#fff" />
<rect x="531.85" y="497" width="1.1" height="4" fill="#fff" />
<rect x="535.74" y="503" width="3.9" height="5" fill="#fff" />
<rect x="537.69" y="497" width="1.1" height="4" fill="#fff" />
<rect x="541.58" y="503" width="3.9" height="5" fill="#fff" />
<rect x="543.53" y="497" width="1.1" height="4" fill="#fff" />
<rect x="547.42" y="503" width="3.9" height="5" fill="#fff" />
<rect x="549.37" y="497" width="1.1" height="8.5" fill="#fff" />
<rect x="553.26" y="503" width="3.9" height="5" fill="#fff" />
<rect x="555.21" y="497" width="1.1" height="4" fill="#fff" />
<rect x="559.1" y="503" width="3.9" height="5" fill="#fff" />
<rect x="561.05" y="497" width="1.1" height="8.5" fill="#fff" />
<rect x="564.94" y="503" width="3.9" height="5" fill="#fff" />
<rect x="566.89" y="497" width="1.1" height="4" fill="#fff" />
<rect x="570.78" y="503" width="3.9" height="5" fill="#fff" />
<rect x="572.73" y="497" width="1.1" height="4" fill="#fff" />
<rect x="576.62" y="503" width="3.9" height="5" fill="#fff" />
<rect x="578.57" y="497" width="1.1" height="4" fill="#fff" />
<rect x="582.46" y="503" width="3.9" height="5" fill="#fff" />
<rect x="584.41" y="497" width="1.1" height="4" fill="#fff" />
<rect x="588.3" y="503" width="3.9" height="5" fill="#fff" />
<rect x="590.25" y="497" width="1.1" height="4" fill="#fff" />
<rect x="594.14" y="503" width="3.9" height="5" fill="#fff" />
<rect x="596.09" y="497" width="1.1" height="4" fill="#fff" />
<rect x="599.98" y="503" width="3.9" height="5" fill="#fff" />
<rect x="601.93" y="497" width="1.1" height="4" fill="#fff" />
</g>
<rect x="512.2" y="347" width="18.6" height="76" fill="#000"/>
<rect x="513.9" y="348" width="13.9" height="74.3" fill="#fff"/>
<rect x="511.4" y="434" width="18.6" height="77.6" rx="2.5" ry="2.5" fill="#000"/>
<rect x="513.1" y="435.4" width="13.9" height="74.6" rx="2" ry="2" fill="#fff"/>
<text transform="translate(520.9,359.2) scale(0.8,1)" font-size="12" text-anchor="middle" letter-spacing="0" fill="#000" >B</text>
<text transform="translate(520.9,374.6) scale(0.8,1)" font-size="12" text-anchor="middle" letter-spacing="0" fill="#000" >A</text>
<text transform="translate(520.9,389.2) scale(0.8,1)" font-size="12" text-anchor="middle" letter-spacing="0" fill="#000" >N</text>
<text transform="translate(520.9,404.2) scale(0.8,1)" font-size="12" text-anchor="middle" letter-spacing="0" fill="#000" >K</text>
<text transform="translate(520.9,420) scale(0.8,1)" font-size="12" text-anchor="middle" letter-spacing="0" fill="#000" >0</text>
<text transform="translate(520.1,447.5) scale(0.8,1)" font-size="12" text-anchor="middle" letter-spacing="0" fill="#000" >B</text>
<text transform="translate(520.1,462.7) scale(0.8,1)" font-size="12" text-anchor="middle" letter-spacing="0" fill="#000" >A</text>
<text transform="translate(520.1,477.5) scale(0.8,1)" font-size="12" text-anchor="middle" letter-spacing="0" fill="#000" >N</text>
<text transform="translate(520.1,492.7) scale(0.8,1)" font-size="12" text-anchor="middle" letter-spacing="0" fill="#000" >K</text>
<text transform="translate(520.1,507.5) scale(0.8,1)" font-size="12" text-anchor="middle" letter-spacing="0" fill="#000" >1</text>
<g shape-rendering="crispEdges">
<rect x="755" y="430" width="31" height="37" fill="#000" />
<rect x="779" y="426" width="7" height="46" fill="#000" />
<rect x="782" y="424" width="4" height="50" fill="#000" />
<rect x="752" y="437" width="4" height="24" fill="#000" />
<rect x="748.5" y="439.5" width="4" height="8" fill="#fff" stroke="#000" stroke-width="1"/>
<rect x="748.5" y="450.5" width="4" height="8" fill="#fff" stroke="#000" stroke-width="1"/>
<rect x="753" y="446" width="2" height="5" fill="#fff" />
<rect x="645.5" y="488.5" width="111" height="23" fill="#fff" stroke="#000" stroke-width="1"/>
</g>
<g>
<rect x="645" y="494.2" width="112" height="0.9" fill="#000" />
<rect x="645" y="501.3" width="112" height="0.8" fill="#000" />
<rect x="647.9" y="491" width="3.4" height="1.2" fill="#000" />
<rect x="646.7" y="492" width="5.8" height="3.1" fill="#000" />
<rect x="646.3" y="497.7" width="7" height="2.8" fill="#000" />
<rect x="657.18" y="491" width="3.4" height="1.2" fill="#000" />
<rect x="655.98" y="492" width="5.8" height="3.1" fill="#000" />
<rect x="655.6" y="497.7" width="7" height="2.8" fill="#000" />
<rect x="666.46" y="491" width="3.4" height="1.2" fill="#000" />
<rect x="665.26" y="492" width="5.8" height="3.1" fill="#000" />
<rect x="664.9" y="497.7" width="7" height="2.8" fill="#000" />
<rect x="675.74" y="491" width="3.4" height="1.2" fill="#000" />
<rect x="674.54" y="492" width="5.8" height="3.1" fill="#000" />
<rect x="674.2" y="497.7" width="7" height="2.8" fill="#000" />
<rect x="685.02" y="491" width="3.4" height="1.2" fill="#000" />
<rect x="683.82" y="492" width="5.8" height="3.1" fill="#000" />
<rect x="683.5" y="497.7" width="7" height="2.8" fill="#000" />
<rect x="694.3" y="491" width="3.4" height="1.2" fill="#000" />
<rect x="693.1" y="492" width="5.8" height="3.1" fill="#000" />
<rect x="692.8" y="497.7" width="7" height="2.8" fill="#000" />
<rect x="703.58" y="491" width="3.4" height="1.2" fill="#000" />
<rect x="702.38" y="492" width="5.8" height="3.1" fill="#000" />
<rect x="702.1" y="497.7" width="7" height="2.8" fill="#000" />
<rect x="712.86" y="491" width="3.4" height="1.2" fill="#000" />
<rect x="711.66" y="492" width="5.8" height="3.1" fill="#000" />
<rect x="711.4" y="497.7" width="7" height="2.8" fill="#000" />
<rect x="722.14" y="491" width="3.4" height="1.2" fill="#000" />
<rect x="720.94" y="492" width="5.8" height="3.1" fill="#000" />
<rect x="720.7" y="497.7" width="7" height="2.8" fill="#000" />
<rect x="731.42" y="491" width="3.4" height="1.2" fill="#000" />
<rect x="730.22" y="492" width="5.8" height="3.1" fill="#000" />
<rect x="730" y="497.7" width="7" height="2.8" fill="#000" />
<rect x="740.7" y="491" width="3.4" height="1.2" fill="#000" />
<rect x="739.5" y="492" width="5.8" height="3.1" fill="#000" />
<rect x="739.3" y="497.7" width="7" height="2.8" fill="#000" />
<rect x="749.98" y="491" width="3.4" height="1.2" fill="#000" />
<rect x="748.78" y="492" width="5.8" height="3.1" fill="#000" />
<rect x="748.6" y="497.7" width="7" height="2.8" fill="#000" />
<rect x="650.6" y="502.9" width="6.3" height="5.6" fill="#fff" stroke="#000" stroke-width="1"/>
<rect x="659.95" y="502.9" width="6.3" height="5.6" fill="#fff" stroke="#000" stroke-width="1"/>
<rect x="669.3" y="502.9" width="6.3" height="5.6" fill="#fff" stroke="#000" stroke-width="1"/>
<rect x="678.65" y="502.9" width="6.3" height="5.6" fill="#fff" stroke="#000" stroke-width="1"/>
<rect x="688" y="502.9" width="6.3" height="5.6" fill="#fff" stroke="#000" stroke-width="1"/>
<rect x="697.35" y="502.9" width="6.3" height="5.6" fill="#fff" stroke="#000" stroke-width="1"/>
<rect x="706.7" y="502.9" width="6.3" height="5.6" fill="#fff" stroke="#000" stroke-width="1"/>
<rect x="716.05" y="502.9" width="6.3" height="5.6" fill="#fff" stroke="#000" stroke-width="1"/>
<rect x="725.4" y="502.9" width="6.3" height="5.6" fill="#fff" stroke="#000" stroke-width="1"/>
<rect x="734.75" y="502.9" width="6.3" height="5.6" fill="#fff" stroke="#000" stroke-width="1"/>
<rect x="744.1" y="502.9" width="6.3" height="5.6" fill="#fff" stroke="#000" stroke-width="1"/>
<rect x="645" y="503" width="2" height="5" fill="#000" />
<rect x="646" y="505" width="1" height="2" fill="#fff" />
<rect x="755" y="503" width="2" height="5" fill="#000" />
<rect x="755" y="505" width="1" height="2" fill="#fff" />
</g>
</svg>
</body></html>
